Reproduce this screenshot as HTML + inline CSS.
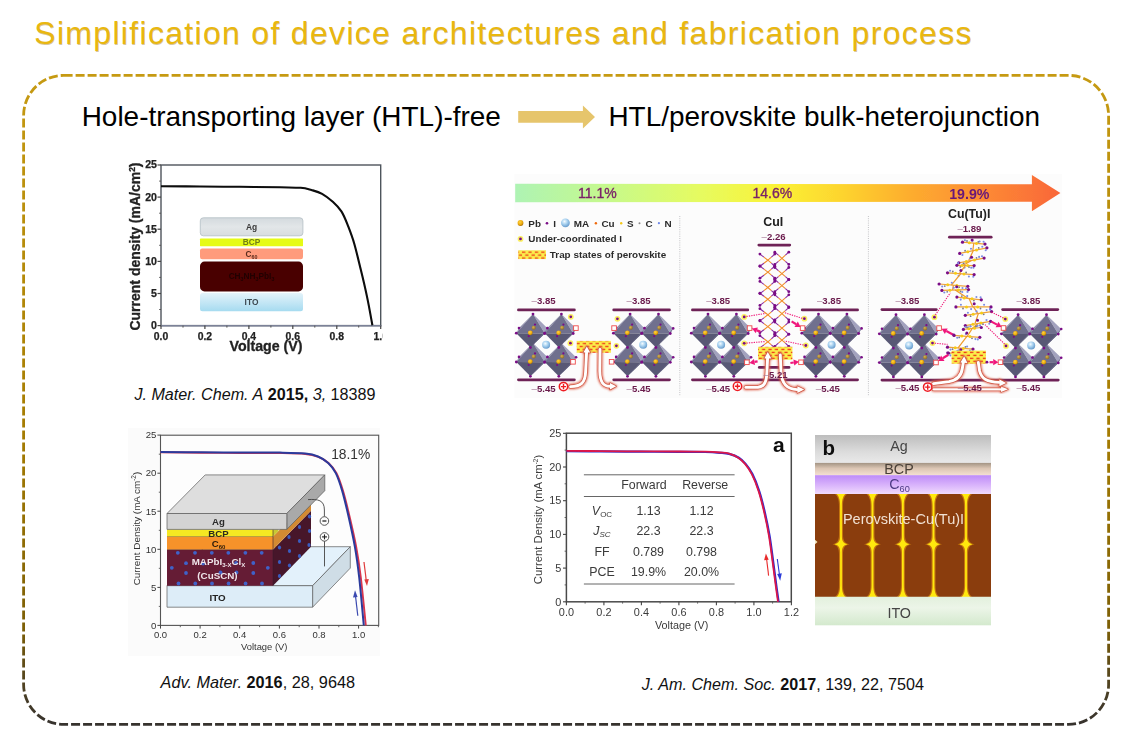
<!DOCTYPE html>
<html><head><meta charset="utf-8">
<style>
html,body{margin:0;padding:0;background:#fff;}
body{width:1133px;height:747px;position:relative;overflow:hidden;font-family:"Liberation Sans",sans-serif;}
.abs{position:absolute;white-space:nowrap;}
#title{left:34.3px;top:12.8px;font-size:32px;line-height:40px;letter-spacing:1.31px;color:#e9b710;text-shadow:0.3px 0.5px 0.6px rgba(150,105,0,.4);}
.h2{font-size:27.95px;line-height:32px;color:#000;}
.cit{font-size:16.15px;line-height:18px;color:#111;}
svg{position:absolute;left:0;top:0;overflow:visible;}
svg text{font-family:"Liberation Sans",sans-serif;}
</style></head>
<body>
<div id="title" class="abs">Simplification of device architectures and fabrication process</div>
<svg id="frame" width="1133" height="747" viewBox="0 0 1133 747">
<defs>
<linearGradient id="gb" x1="0" y1="75" x2="0" y2="725" gradientUnits="userSpaceOnUse">
<stop offset="0" stop-color="#c69a12"/><stop offset="0.55" stop-color="#a57c02"/><stop offset="0.85" stop-color="#7d5f06"/><stop offset="0.95" stop-color="#4a3f25"/><stop offset="1" stop-color="#36322e"/>
</linearGradient>
</defs>
<rect x="23.6" y="75.4" width="1085" height="649" rx="40" ry="40" fill="none" stroke="url(#gb)" stroke-width="2.8" stroke-dasharray="9 3"/>
</svg>
<svg id="arr" width="1133" height="747" viewBox="0 0 1133 747"><polygon points="518.2,111.1 582.9,111.1 582.9,105.6 595,117 582.9,128.5 582.9,122.8 518.2,122.8" fill="#e6c56c"/></svg>
<div class="abs h2" id="h2a" style="left:81.7px;top:100.9px;">Hole-transporting layer (HTL)-free</div>
<div class="abs h2" id="h2b" style="left:608.4px;top:101.1px;">HTL/perovskite bulk-heterojunction</div>
<svg id="fig1" width="1133" height="747" viewBox="0 0 1133 747">
<defs><linearGradient id="f1ito" x1="0" y1="0" x2="0" y2="1"><stop offset="0" stop-color="#e4f3fa"/><stop offset="1" stop-color="#a6dbf0"/></linearGradient>
<linearGradient id="f1ag" x1="0" y1="0" x2="0" y2="1"><stop offset="0" stop-color="#d4dade"/><stop offset="0.5" stop-color="#e2e6e8"/><stop offset="1" stop-color="#d8dde0"/></linearGradient>
<clipPath id="f1clip"><rect x="126" y="158" width="256.5" height="202"/></clipPath>
<filter id="blur4" x="-5%" y="-5%" width="110%" height="110%"><feGaussianBlur stdDeviation="0.45"/></filter></defs>
<g clip-path="url(#f1clip)"><g filter="url(#blur4)">
<rect x="161" y="165" width="219.7" height="160.6" fill="#fff" stroke="#4e545c" stroke-width="1.4"/>
<line x1="160.3" y1="325.8" x2="381.4" y2="325.8" stroke="#7c8298" stroke-width="1.6"/>
<line x1="157.5" y1="325.6" x2="161" y2="325.6" stroke="#444" stroke-width="1.2"/>
<text x="157" y="329.0" font-size="10.6" font-weight="bold" text-anchor="end" fill="#222" stroke="#222" stroke-width="0.25">0</text>
<line x1="157.5" y1="293.5" x2="161" y2="293.5" stroke="#444" stroke-width="1.2"/>
<text x="157" y="296.9" font-size="10.6" font-weight="bold" text-anchor="end" fill="#222" stroke="#222" stroke-width="0.25">5</text>
<line x1="157.5" y1="261.4" x2="161" y2="261.4" stroke="#444" stroke-width="1.2"/>
<text x="157" y="264.8" font-size="10.6" font-weight="bold" text-anchor="end" fill="#222" stroke="#222" stroke-width="0.25">10</text>
<line x1="157.5" y1="229.2" x2="161" y2="229.2" stroke="#444" stroke-width="1.2"/>
<text x="157" y="232.6" font-size="10.6" font-weight="bold" text-anchor="end" fill="#222" stroke="#222" stroke-width="0.25">15</text>
<line x1="157.5" y1="197.1" x2="161" y2="197.1" stroke="#444" stroke-width="1.2"/>
<text x="157" y="200.5" font-size="10.6" font-weight="bold" text-anchor="end" fill="#222" stroke="#222" stroke-width="0.25">20</text>
<line x1="157.5" y1="165.0" x2="161" y2="165.0" stroke="#444" stroke-width="1.2"/>
<text x="157" y="168.4" font-size="10.6" font-weight="bold" text-anchor="end" fill="#222" stroke="#222" stroke-width="0.25">25</text>
<line x1="159.2" y1="309.5" x2="161" y2="309.5" stroke="#555" stroke-width="1"/>
<line x1="159.2" y1="277.4" x2="161" y2="277.4" stroke="#555" stroke-width="1"/>
<line x1="159.2" y1="245.3" x2="161" y2="245.3" stroke="#555" stroke-width="1"/>
<line x1="159.2" y1="213.2" x2="161" y2="213.2" stroke="#555" stroke-width="1"/>
<line x1="159.2" y1="181.1" x2="161" y2="181.1" stroke="#555" stroke-width="1"/>
<line x1="161.0" y1="325.6" x2="161.0" y2="329" stroke="#444" stroke-width="1.2"/>
<text x="161.0" y="339.6" font-size="10.4" font-weight="bold" text-anchor="middle" fill="#222" stroke="#222" stroke-width="0.25">0.0</text>
<line x1="204.9" y1="325.6" x2="204.9" y2="329" stroke="#444" stroke-width="1.2"/>
<text x="204.9" y="339.6" font-size="10.4" font-weight="bold" text-anchor="middle" fill="#222" stroke="#222" stroke-width="0.25">0.2</text>
<line x1="248.9" y1="325.6" x2="248.9" y2="329" stroke="#444" stroke-width="1.2"/>
<text x="248.9" y="339.6" font-size="10.4" font-weight="bold" text-anchor="middle" fill="#222" stroke="#222" stroke-width="0.25">0.4</text>
<line x1="292.8" y1="325.6" x2="292.8" y2="329" stroke="#444" stroke-width="1.2"/>
<text x="292.8" y="339.6" font-size="10.4" font-weight="bold" text-anchor="middle" fill="#222" stroke="#222" stroke-width="0.25">0.6</text>
<line x1="336.8" y1="325.6" x2="336.8" y2="329" stroke="#444" stroke-width="1.2"/>
<text x="336.8" y="339.6" font-size="10.4" font-weight="bold" text-anchor="middle" fill="#222" stroke="#222" stroke-width="0.25">0.8</text>
<line x1="380.7" y1="325.6" x2="380.7" y2="329" stroke="#444" stroke-width="1.2"/>
<text x="380.7" y="339.6" font-size="10.4" font-weight="bold" text-anchor="middle" fill="#222" stroke="#222" stroke-width="0.25">1.0</text>
<line x1="183.0" y1="325.6" x2="183.0" y2="327.6" stroke="#555" stroke-width="1"/>
<line x1="226.9" y1="325.6" x2="226.9" y2="327.6" stroke="#555" stroke-width="1"/>
<line x1="270.9" y1="325.6" x2="270.9" y2="327.6" stroke="#555" stroke-width="1"/>
<line x1="314.8" y1="325.6" x2="314.8" y2="327.6" stroke="#555" stroke-width="1"/>
<line x1="358.7" y1="325.6" x2="358.7" y2="327.6" stroke="#555" stroke-width="1"/>
<text x="266" y="350.6" font-size="14.2" font-weight="bold" text-anchor="middle" fill="#222" stroke="#222" stroke-width="0.3">Voltage (V)</text>
<text transform="translate(139.6,246.5) rotate(-90)" font-size="14" font-weight="bold" text-anchor="middle" fill="#222" stroke="#222" stroke-width="0.3">Current density (mA/cm<tspan font-size="8.5" dy="-5">2</tspan><tspan dy="5">)</tspan></text>
<rect x="200.3" y="217.8" width="102.6" height="18" rx="3" fill="url(#f1ag)" stroke="#b9c3c8" stroke-width="0.9"/>
<rect x="200" y="238.6" width="103" height="7.6" rx="0.6" fill="#e6fb16"/>
<rect x="200" y="248.4" width="103" height="10.8" rx="2.2" fill="#ff9b7c"/>
<rect x="200" y="261.6" width="103" height="29.8" rx="4.5" fill="#480505"/>
<rect x="200" y="292.9" width="103" height="18.3" rx="2.5" fill="url(#f1ito)"/>
<text x="251.5" y="230" font-size="8.4" font-weight="bold" text-anchor="middle" fill="#3a3a3a">Ag</text>
<text x="251.5" y="245.2" font-size="8.3" font-weight="bold" text-anchor="middle" fill="#6f7f12">BCP</text>
<text x="251.5" y="256.8" font-size="8.3" font-weight="bold" text-anchor="middle" fill="#5a2a1c">C<tspan font-size="5.3" dy="1.8">60</tspan></text>
<text x="251.5" y="279.2" font-size="8.3" font-weight="bold" text-anchor="middle" fill="#220000">CH<tspan font-size="5.3" dy="1.8">3</tspan><tspan dy="-1.8">NH</tspan><tspan font-size="5.3" dy="1.8">3</tspan><tspan dy="-1.8">PbI</tspan><tspan font-size="5.3" dy="1.8">3</tspan></text>
<text x="251.5" y="305.2" font-size="8.4" font-weight="bold" text-anchor="middle" fill="#3c4850">ITO</text>
<path d="M161.0,186.2 C167.5,186.2 186.8,186.4 200.0,186.5 C213.2,186.6 226.7,186.7 240.0,186.8 C253.3,186.9 269.9,187.1 280.0,187.3 C290.1,187.5 295.5,187.4 300.7,187.8 C305.9,188.2 307.8,189.0 311.4,190.0 C315.0,191.0 318.5,191.8 322.1,193.8 C325.7,195.8 329.6,198.9 332.8,201.8 C336.0,204.7 338.9,207.5 341.4,211.4 C343.9,215.3 345.7,220.0 347.8,225.3 C349.9,230.7 352.1,236.2 354.2,243.5 C356.3,250.8 358.5,260.3 360.7,269.2 C362.9,278.1 365.2,287.8 367.1,297.1 C369.1,306.4 371.5,320.5 372.4,325.2" fill="none" stroke="#0a0a0a" stroke-width="2.1" stroke-linejoin="round"/>
</g></g></svg>
<div class="abs cit" id="c1" style="left:134.4px;top:385.2px;"><i>J. Mater. Chem. A</i> <b>2015,</b> <i>3,</i> 18389</div>
<svg id="fig2" width="1133" height="747" viewBox="0 0 1133 747">
<defs><clipPath id="f2clip"><rect x="128" y="428" width="252" height="228"/></clipPath></defs>
<rect x="128" y="428" width="252" height="228" fill="#fbfbfb"/>
<g filter="url(#blur4)">
<rect x="160.5" y="435.2" width="218.2" height="190.2" fill="#fdfdfd" stroke="#555" stroke-width="1.1"/>
<line x1="157.4" y1="625.4" x2="160.5" y2="625.4" stroke="#444" stroke-width="1"/>
<text x="156.4" y="628.6" font-size="9.6" text-anchor="end" fill="#333">0</text>
<line x1="157.4" y1="587.4" x2="160.5" y2="587.4" stroke="#444" stroke-width="1"/>
<text x="156.4" y="590.6" font-size="9.6" text-anchor="end" fill="#333">5</text>
<line x1="157.4" y1="549.3" x2="160.5" y2="549.3" stroke="#444" stroke-width="1"/>
<text x="156.4" y="552.5" font-size="9.6" text-anchor="end" fill="#333">10</text>
<line x1="157.4" y1="511.2" x2="160.5" y2="511.2" stroke="#444" stroke-width="1"/>
<text x="156.4" y="514.5" font-size="9.6" text-anchor="end" fill="#333">15</text>
<line x1="157.4" y1="473.2" x2="160.5" y2="473.2" stroke="#444" stroke-width="1"/>
<text x="156.4" y="476.4" font-size="9.6" text-anchor="end" fill="#333">20</text>
<line x1="157.4" y1="435.1" x2="160.5" y2="435.1" stroke="#444" stroke-width="1"/>
<text x="156.4" y="438.3" font-size="9.6" text-anchor="end" fill="#333">25</text>
<line x1="158.8" y1="606.4" x2="160.5" y2="606.4" stroke="#555" stroke-width="0.9"/>
<line x1="158.8" y1="568.3" x2="160.5" y2="568.3" stroke="#555" stroke-width="0.9"/>
<line x1="158.8" y1="530.3" x2="160.5" y2="530.3" stroke="#555" stroke-width="0.9"/>
<line x1="158.8" y1="492.2" x2="160.5" y2="492.2" stroke="#555" stroke-width="0.9"/>
<line x1="158.8" y1="454.2" x2="160.5" y2="454.2" stroke="#555" stroke-width="0.9"/>
<line x1="160.5" y1="625.4" x2="160.5" y2="628.6" stroke="#444" stroke-width="1"/>
<text x="160.5" y="638.3" font-size="9.5" text-anchor="middle" fill="#333">0.0</text>
<line x1="200.1" y1="625.4" x2="200.1" y2="628.6" stroke="#444" stroke-width="1"/>
<text x="200.1" y="638.3" font-size="9.5" text-anchor="middle" fill="#333">0.2</text>
<line x1="239.7" y1="625.4" x2="239.7" y2="628.6" stroke="#444" stroke-width="1"/>
<text x="239.7" y="638.3" font-size="9.5" text-anchor="middle" fill="#333">0.4</text>
<line x1="279.4" y1="625.4" x2="279.4" y2="628.6" stroke="#444" stroke-width="1"/>
<text x="279.4" y="638.3" font-size="9.5" text-anchor="middle" fill="#333">0.6</text>
<line x1="319.0" y1="625.4" x2="319.0" y2="628.6" stroke="#444" stroke-width="1"/>
<text x="319.0" y="638.3" font-size="9.5" text-anchor="middle" fill="#333">0.8</text>
<line x1="358.6" y1="625.4" x2="358.6" y2="628.6" stroke="#444" stroke-width="1"/>
<text x="358.6" y="638.3" font-size="9.5" text-anchor="middle" fill="#333">1.0</text>
<line x1="180.3" y1="625.4" x2="180.3" y2="627.2" stroke="#555" stroke-width="0.9"/>
<line x1="219.9" y1="625.4" x2="219.9" y2="627.2" stroke="#555" stroke-width="0.9"/>
<line x1="259.6" y1="625.4" x2="259.6" y2="627.2" stroke="#555" stroke-width="0.9"/>
<line x1="299.2" y1="625.4" x2="299.2" y2="627.2" stroke="#555" stroke-width="0.9"/>
<line x1="338.8" y1="625.4" x2="338.8" y2="627.2" stroke="#555" stroke-width="0.9"/>
<line x1="378.4" y1="625.4" x2="378.4" y2="627.2" stroke="#555" stroke-width="0.9"/>
<text x="264.2" y="650.1" font-size="9.4" text-anchor="middle" fill="#333">Voltage (V)</text>
<text transform="translate(139.8,528.5) rotate(-90)" font-size="9.85" text-anchor="middle" fill="#333">Current Density (mA cm<tspan font-size="6.5" dy="-4">-2</tspan><tspan dy="4">)</tspan></text>
<path d="M160.5,452.3 C167.1,452.4 186.8,452.6 200.0,452.7 C213.2,452.8 226.7,452.9 240.0,453.0 C253.3,453.1 269.1,452.9 280.0,453.1 C290.9,453.3 298.9,453.4 305.3,454.0 C311.7,454.6 314.4,455.4 318.3,456.9 C322.2,458.4 325.7,460.5 328.7,463.2 C331.7,465.9 334.1,468.7 336.5,473.3 C338.9,477.9 340.8,483.7 343.0,490.9 C345.2,498.1 347.3,507.0 349.5,516.3 C351.7,525.6 354.3,536.7 356.2,546.9 C358.1,557.1 359.2,564.3 360.8,577.4 C362.4,590.5 365.0,617.4 365.8,625.4" fill="none" stroke="#d8344e" stroke-width="1.9"/>
<path d="M160.5,452.0 C167.1,452.1 186.8,452.2 200.0,452.3 C213.2,452.4 226.7,452.4 240.0,452.5 C253.3,452.6 269.1,452.4 280.0,452.6 C290.9,452.8 299.0,452.9 305.3,453.5 C311.6,454.1 314.2,454.9 318.0,456.5 C321.8,458.1 325.2,460.1 328.2,462.9 C331.2,465.7 333.5,468.4 335.8,473.1 C338.1,477.8 340.1,483.7 342.2,490.9 C344.3,498.1 346.4,507.0 348.5,516.3 C350.6,525.6 353.1,536.7 354.9,546.9 C356.7,557.1 357.7,564.3 359.2,577.4 C360.7,590.5 363.0,617.4 363.8,625.4" fill="none" stroke="#2c3a9c" stroke-width="2"/>
<polygon points="167,585.7 205,546.7 350.3,546.7 312.6,585.7" fill="#e3f1fb" stroke="#5a5a5a" stroke-width="0.7" stroke-linejoin="round"/>
<polygon points="312.6,585.7 350.3,546.7 350.3,568.1 312.6,607.2" fill="#cfdde6" stroke="#5a5a5a" stroke-width="0.7" stroke-linejoin="round"/>
<rect x="167" y="585.7" width="145.6" height="21.5" fill="#ddedf8" stroke="#5a5a5a" stroke-width="0.7" stroke-linejoin="round"/>
<polygon points="273,549.6 311,510.8 311,546.7 273,585.7" fill="#47182b"/>
<polygon points="273,536.5 311,497.8 311,510.8 273,549.6" fill="#d38a32"/>
<polygon points="273,529.4 278.5,529.4 278.5,531 273,536.5" fill="#c9c832"/>
<ellipse cx="309.5" cy="516.5" rx="1.6" ry="2" fill="#3a5cc0"/>
<ellipse cx="299.5" cy="527.0" rx="1.6" ry="2" fill="#3a5cc0"/>
<ellipse cx="289.0" cy="537.0" rx="1.6" ry="2" fill="#3a5cc0"/>
<ellipse cx="279.5" cy="547.5" rx="1.6" ry="2" fill="#3a5cc0"/>
<ellipse cx="309.0" cy="545.0" rx="1.6" ry="2" fill="#3a5cc0"/>
<ellipse cx="299.5" cy="541.0" rx="1.6" ry="2" fill="#3a5cc0"/>
<ellipse cx="289.5" cy="551.0" rx="1.6" ry="2" fill="#3a5cc0"/>
<ellipse cx="279.5" cy="562.0" rx="1.6" ry="2" fill="#3a5cc0"/>
<ellipse cx="299.5" cy="556.0" rx="1.6" ry="2" fill="#3a5cc0"/>
<ellipse cx="289.5" cy="565.5" rx="1.6" ry="2" fill="#3a5cc0"/>
<ellipse cx="279.5" cy="576.0" rx="1.6" ry="2" fill="#3a5cc0"/>
<ellipse cx="309.5" cy="531.0" rx="1.6" ry="2" fill="#3a5cc0"/>
<rect x="167" y="549.6" width="106" height="36.1" fill="#651a35"/>
<circle cx="177.8" cy="552.8" r="1.9" fill="#3f62c8"/>
<circle cx="195.0" cy="552.8" r="1.9" fill="#3f62c8"/>
<circle cx="211.8" cy="552.8" r="1.9" fill="#3f62c8"/>
<circle cx="228.3" cy="552.8" r="1.9" fill="#3f62c8"/>
<circle cx="245.4" cy="552.8" r="1.9" fill="#3f62c8"/>
<circle cx="261.7" cy="552.8" r="1.9" fill="#3f62c8"/>
<circle cx="186.0" cy="563.2" r="1.9" fill="#3f62c8"/>
<circle cx="203.0" cy="563.5" r="1.9" fill="#3f62c8"/>
<circle cx="236.0" cy="563.0" r="1.9" fill="#3f62c8"/>
<circle cx="253.3" cy="563.0" r="1.9" fill="#3f62c8"/>
<circle cx="171.8" cy="567.8" r="1.9" fill="#3f62c8"/>
<circle cx="267.8" cy="567.8" r="1.9" fill="#3f62c8"/>
<circle cx="186.0" cy="573.0" r="1.9" fill="#3f62c8"/>
<circle cx="220.5" cy="572.5" r="1.9" fill="#3f62c8"/>
<circle cx="236.5" cy="572.5" r="1.9" fill="#3f62c8"/>
<circle cx="253.3" cy="573.0" r="1.9" fill="#3f62c8"/>
<circle cx="178.5" cy="583.5" r="1.9" fill="#3f62c8"/>
<circle cx="195.3" cy="583.5" r="1.9" fill="#3f62c8"/>
<circle cx="212.0" cy="583.5" r="1.9" fill="#3f62c8"/>
<circle cx="228.6" cy="583.5" r="1.9" fill="#3f62c8"/>
<circle cx="245.6" cy="583.5" r="1.9" fill="#3f62c8"/>
<circle cx="262.0" cy="583.5" r="1.9" fill="#3f62c8"/>
<rect x="167" y="536.5" width="106" height="13.1" fill="#f6922a"/>
<rect x="167" y="529.4" width="106" height="7.1" fill="#f5e824"/>
<line x1="167" y1="536.5" x2="273" y2="536.5" stroke="#7a6a20" stroke-width="0.5"/>
<line x1="167" y1="549.6" x2="273" y2="549.6" stroke="#6a3a20" stroke-width="0.5"/>
<line x1="273" y1="529.4" x2="273" y2="585.7" stroke="#3a2030" stroke-width="0.6"/>
<polygon points="167,513.5 205.2,474.9 324.8,474.9 286.8,513.5" fill="#dedede" stroke="#5a5a5a" stroke-width="0.7" stroke-linejoin="round"/>
<polygon points="286.8,513.5 324.8,474.9 324.8,490.7 286.8,529.4" fill="#a9a9a9" stroke="#5a5a5a" stroke-width="0.7" stroke-linejoin="round"/>
<rect x="167" y="513.5" width="119.8" height="15.9" fill="#d3d3d3" stroke="#5a5a5a" stroke-width="0.7" stroke-linejoin="round"/>
<text x="218.5" y="525.2" font-size="9.6" font-weight="bold" text-anchor="middle" fill="#2a2a2a">Ag</text>
<text x="218.5" y="537" font-size="9.6" font-weight="bold" text-anchor="middle" fill="#2a2a1a">BCP</text>
<text x="218.5" y="547" font-size="9.6" font-weight="bold" text-anchor="middle" fill="#2a1a0a">C<tspan font-size="6" dy="2">60</tspan></text>
<text x="218.5" y="564.6" font-size="9.8" font-weight="bold" text-anchor="middle" fill="#efe6ea">MAPbI<tspan font-size="6" dy="2">3-X</tspan><tspan dy="-2">Cl</tspan><tspan font-size="6" dy="2">X</tspan></text>
<text x="217.5" y="578.8" font-size="9.8" font-weight="bold" text-anchor="middle" fill="#efe6ea">(CuSCN)</text>
<text x="217.5" y="601.4" font-size="9.8" font-weight="bold" text-anchor="middle" fill="#222">ITO</text>
<path d="M308,499.6 C318,499 324.4,500 324.4,510 L324.4,516.5" fill="none" stroke="#444" stroke-width="0.9"/>
<circle cx="324.4" cy="521" r="4.3" fill="#fbfbfb" stroke="#444" stroke-width="0.9"/><line x1="322.4" y1="521" x2="326.4" y2="521" stroke="#222" stroke-width="1.3"/>
<circle cx="324.5" cy="536.9" r="4.3" fill="#fbfbfb" stroke="#444" stroke-width="0.9"/><line x1="322" y1="536.9" x2="327" y2="536.9" stroke="#222" stroke-width="1.1"/><line x1="324.5" y1="534.4" x2="324.5" y2="539.4" stroke="#222" stroke-width="1.1"/>
<line x1="324.5" y1="541.2" x2="324.5" y2="566.4" stroke="#444" stroke-width="0.9"/>
<text x="331.2" y="458.6" font-size="13.8" fill="#333">18.1%</text>
<line x1="364" y1="562" x2="366.3" y2="581" stroke="#e03a3a" stroke-width="1.2"/><polygon points="364.3,579.5 368.8,578.9 367,586" fill="#e03a3a"/>
<line x1="357.8" y1="615.8" x2="355.5" y2="596" stroke="#3a4ab0" stroke-width="1.2"/><polygon points="353,597.6 357.6,597 355,590.2" fill="#3a4ab0"/>
</g></svg>
<div class="abs cit" id="c2" style="left:160.6px;top:672.6px;font-size:16.28px;"><i>Adv. Mater.</i> <b>2016</b>, 28, 9648</div>
<svg id="fig3" width="1133" height="747" viewBox="0 0 1133 747">
<defs>
<linearGradient id="f3bar" x1="515" y1="0" x2="1061" y2="0" gradientUnits="userSpaceOnUse">
<stop offset="0" stop-color="#aef3b4"/><stop offset="0.17" stop-color="#c6f98c"/><stop offset="0.34" stop-color="#e6fb60"/><stop offset="0.48" stop-color="#fbf236"/><stop offset="0.6" stop-color="#fdd42e"/><stop offset="0.72" stop-color="#fdae2e"/><stop offset="0.86" stop-color="#fd8a34"/><stop offset="1" stop-color="#f9663a"/>
</linearGradient>
<radialGradient id="gma" cx="0.4" cy="0.35" r="0.7"><stop offset="0" stop-color="#f4fbff"/><stop offset="0.45" stop-color="#a9d2f0"/><stop offset="1" stop-color="#5f95c8"/></radialGradient>
<radialGradient id="gpb" cx="0.4" cy="0.35" r="0.7"><stop offset="0" stop-color="#ffd640"/><stop offset="0.6" stop-color="#eda90c"/><stop offset="1" stop-color="#a06a04"/></radialGradient>
<radialGradient id="gpb2" cx="0.4" cy="0.35" r="0.7"><stop offset="0" stop-color="#d8b050"/><stop offset="1" stop-color="#8a6a20"/></radialGradient>
<pattern id="trap" x="0" y="0" width="6.4" height="5.9" patternUnits="userSpaceOnUse"><rect width="6.4" height="5.9" fill="#fbf04a"/><rect x="0.4" y="0.7" width="3.3" height="1.4" fill="#f0401c"/><rect x="3.6" y="3.65" width="3.3" height="1.4" fill="#f0401c"/><rect x="-2.8" y="3.65" width="3.3" height="1.4" fill="#f0401c"/></pattern>
<filter id="blur6" x="-5%" y="-5%" width="110%" height="110%"><feGaussianBlur stdDeviation="0.6"/></filter>
<filter id="glow" x="-20%" y="-20%" width="140%" height="140%"><feGaussianBlur stdDeviation="0.9"/></filter>
<g id="oct">
<polygon points="1.3,-16.7 -12.7,-2.7 -15.4,2.4" fill="#8c8ca8"/>
<polygon points="1.3,-16.7 16,-2.4 13.1,2.7" fill="#a2a2be"/>
<polygon points="1.3,-16.7 -15.4,2.4 13.1,2.7" fill="#6f6f8e"/>
<polygon points="-1.3,16.7 -15.4,2.4 13.1,2.7" fill="#595975"/>
<polygon points="-1.3,16.7 13.1,2.7 16,-2.4" fill="#6a6a88"/>
<circle cx="2" cy="-3" r="2" fill="url(#gpb2)"/>
<circle cx="-1.4" cy="2" r="2.4" fill="url(#gpb)"/>
<g fill="#7a0f86"><circle cx="1.3" cy="-16.7" r="1.4"/><circle cx="-1.3" cy="16.7" r="1.4"/><circle cx="-15.4" cy="2.4" r="1.4"/><circle cx="-12.7" cy="-2.7" r="1.3"/><circle cx="16" cy="-2.4" r="1.3"/><circle cx="13.1" cy="2.7" r="1.4"/><circle cx="-3" cy="5.4" r="1.1"/><circle cx="3.3" cy="-6.2" r="1.1"/></g>
</g>
<g id="blk">
<use href="#oct" x="-14.2" y="14.4"/><use href="#oct" x="14.2" y="14.4"/><use href="#oct" x="-14.2" y="-14.4"/><use href="#oct" x="14.2" y="-14.4"/>
<circle cx="0.2" cy="-0.4" r="4" fill="url(#gma)"/>
</g>
<g id="halo"><circle r="2.9" fill="#fbf060"/><circle r="1.4" fill="#7a0f86"/></g>
<g id="rsq"><rect x="-2.3" y="-2.3" width="4.6" height="4.6" fill="#fff" stroke="#ee4848" stroke-width="0.9"/></g>
<g id="hole"><circle r="4.2" fill="#fff" stroke="#ee1c24" stroke-width="1.5"/><path d="M-2.6,0H2.6M0,-2.6V2.6" stroke="#ee1c24" stroke-width="1.4"/></g>
</defs>
<rect x="514.5" y="174" width="547.5" height="224" fill="#fcfcfc"/>
<g filter="url(#blur6)">
<polygon points="515.2,183.8 1031.9,184.2 1031.9,175.1 1060.4,193 1031.9,211.2 1031.9,201.8 515.2,202.3" fill="url(#f3bar)"/>
<text x="578" y="198" font-size="14" fill="#7a2468" stroke="#7a2468" stroke-width="0.35">11.1%</text>
<text x="752.5" y="198.2" font-size="14" fill="#7a2468" stroke="#7a2468" stroke-width="0.35">14.6%</text>
<text x="949.2" y="198.6" font-size="14.2" font-weight="bold" fill="#68187a">19.9%</text>
<line x1="679.8" y1="216" x2="679.8" y2="396" stroke="#c4c4c8" stroke-width="1" stroke-dasharray="1 1.2"/>
<line x1="868.4" y1="216" x2="868.4" y2="396" stroke="#c4c4c8" stroke-width="1" stroke-dasharray="1 1.2"/>
<circle cx="520.5" cy="223" r="2.9" fill="url(#gpb)"/><text x="528.3" y="226.5" font-size="9.9" font-weight="bold" fill="#2c2c2c">Pb</text>
<circle cx="547" cy="223.2" r="1.3" fill="#7a0f86"/><text x="553.2" y="226.5" font-size="9.9" font-weight="bold" fill="#2c2c2c">I</text>
<circle cx="565.4" cy="222.8" r="4.4" fill="url(#gma)"/><text x="573.8" y="226.5" font-size="9.9" font-weight="bold" fill="#2c2c2c">MA</text>
<circle cx="595.9" cy="223.2" r="1.2" fill="#f06a10"/><text x="601.4" y="226.5" font-size="9.9" font-weight="bold" fill="#2c2c2c">Cu</text>
<circle cx="621.2" cy="223.2" r="1.2" fill="#f4c818"/><text x="627" y="226.5" font-size="9.9" font-weight="bold" fill="#2c2c2c">S</text>
<circle cx="639.5" cy="223.2" r="1" fill="#8a8a8a"/><text x="645.4" y="226.5" font-size="9.9" font-weight="bold" fill="#2c2c2c">C</text>
<circle cx="658.9" cy="223.2" r="1.1" fill="#7088e8"/><text x="664.4" y="226.5" font-size="9.9" font-weight="bold" fill="#2c2c2c">N</text>
<use href="#halo" x="520.5" y="238.9"/><text x="528.3" y="242.1" font-size="9.9" font-weight="bold" fill="#2c2c2c">Under-coordinated I</text>
<rect x="518.2" y="250.3" width="27.8" height="8.8" fill="url(#trap)"/><text x="549.8" y="257.9" font-size="9.9" font-weight="bold" fill="#2c2c2c">Trap states of perovskite</text>
<line x1="518.4" y1="309.9" x2="574.4" y2="309.9" stroke="#6e2457" stroke-width="2.7" stroke-linecap="round"/>
<line x1="518.4" y1="379.8" x2="574.4" y2="379.8" stroke="#6e2457" stroke-width="2.7" stroke-linecap="round"/>
<line x1="613.7" y1="309.9" x2="669.5" y2="309.9" stroke="#6e2457" stroke-width="2.7" stroke-linecap="round"/>
<line x1="613.7" y1="379.8" x2="669.5" y2="379.8" stroke="#6e2457" stroke-width="2.7" stroke-linecap="round"/>
<text x="543.6" y="304.3" font-size="9.6" font-weight="bold" text-anchor="middle" fill="#6a1a4c"><tspan font-weight="normal" fill="#a87a98">–</tspan>3.85</text>
<text x="638.6" y="304.3" font-size="9.6" font-weight="bold" text-anchor="middle" fill="#6a1a4c"><tspan font-weight="normal" fill="#a87a98">–</tspan>3.85</text>
<text x="543.6" y="391.9" font-size="9.6" font-weight="bold" text-anchor="middle" fill="#6a1a4c"><tspan font-weight="normal" fill="#a87a98">–</tspan>5.45</text>
<text x="638.6" y="391.9" font-size="9.6" font-weight="bold" text-anchor="middle" fill="#6a1a4c"><tspan font-weight="normal" fill="#a87a98">–</tspan>5.45</text>
<use href="#blk" x="545.9" y="345.2"/>
<use href="#blk" x="643.0" y="345.2"/>
<rect x="576.7" y="340.9" width="34.2" height="11.9" fill="url(#trap)"/>
<use href="#halo" x="570.8" y="316.8"/>
<use href="#halo" x="570.4" y="343.2"/>
<use href="#halo" x="617.4" y="318.8"/>
<use href="#halo" x="616.4" y="345.8"/>
<use href="#rsq" x="575.9" y="328.1"/>
<use href="#rsq" x="573.0" y="361.8"/>
<use href="#rsq" x="614.1" y="328.1"/>
<use href="#rsq" x="611.6" y="361.8"/>
<g><g filter="url(#glow)"><path d="M570.5,386.6 C580.5,386.4 585.3,383 585.6,372 L586.6,352" fill="none" stroke="#e0604c" stroke-width="5.5" stroke-linecap="round"/><polygon points="583.4,352.6 586.8,346.4 590.2,352.6" fill="#e0604c" stroke="#e0604c" stroke-width="2.2" stroke-linejoin="round"/></g>
<path d="M570.5,386.6 C580.5,386.4 585.3,383 585.6,372 L586.6,352" fill="none" stroke="#c8503c" stroke-width="3.9" stroke-linecap="round"/><polygon points="583.4,352.6 586.8,346.4 590.2,352.6" fill="#fff" stroke="#c8503c" stroke-width="1.2" stroke-linejoin="round"/>
<path d="M570.5,386.6 C580.5,386.4 585.3,383 585.6,372 L586.6,352" fill="none" stroke="#fff" stroke-width="2.9" stroke-linecap="round"/><polygon points="583.4,352.6 586.8,346.4 590.2,352.6" fill="#fff"/></g>
<g><g filter="url(#glow)"><path d="M600,349.5 L599.8,371 C600,382 603,386.2 610,386.3" fill="none" stroke="#e0604c" stroke-width="5.5" stroke-linecap="round"/><polygon points="610,383 616.2,386.3 610,389.6" fill="#e0604c" stroke="#e0604c" stroke-width="2.2" stroke-linejoin="round"/></g>
<path d="M600,349.5 L599.8,371 C600,382 603,386.2 610,386.3" fill="none" stroke="#c8503c" stroke-width="3.9" stroke-linecap="round"/><polygon points="610,383 616.2,386.3 610,389.6" fill="#fff" stroke="#c8503c" stroke-width="1.2" stroke-linejoin="round"/>
<path d="M600,349.5 L599.8,371 C600,382 603,386.2 610,386.3" fill="none" stroke="#fff" stroke-width="2.9" stroke-linecap="round"/><polygon points="610,383 616.2,386.3 610,389.6" fill="#fff"/></g>
<use href="#hole" x="563.5" y="386.6"/>
<line x1="692.4" y1="309.9" x2="747.8" y2="309.9" stroke="#6e2457" stroke-width="2.7" stroke-linecap="round"/>
<line x1="802.2" y1="309.9" x2="857.6" y2="309.9" stroke="#6e2457" stroke-width="2.7" stroke-linecap="round"/>
<line x1="692.4" y1="379.8" x2="857.6" y2="379.8" stroke="#6e2457" stroke-width="2.7" stroke-linecap="round"/>
<line x1="758.8" y1="245.1" x2="789.8" y2="245.1" stroke="#6e2457" stroke-width="2.7" stroke-linecap="round"/>
<line x1="759.3" y1="367.4" x2="789.0" y2="367.4" stroke="#6e2457" stroke-width="2.8" stroke-linecap="round"/>
<text x="718.2" y="304.3" font-size="9.6" font-weight="bold" text-anchor="middle" fill="#6a1a4c"><tspan font-weight="normal" fill="#a87a98">–</tspan>3.85</text>
<text x="829.0" y="304.3" font-size="9.6" font-weight="bold" text-anchor="middle" fill="#6a1a4c"><tspan font-weight="normal" fill="#a87a98">–</tspan>3.85</text>
<text x="718.2" y="391.6" font-size="9.6" font-weight="bold" text-anchor="middle" fill="#6a1a4c"><tspan font-weight="normal" fill="#a87a98">–</tspan>5.45</text>
<text x="827.8" y="391.6" font-size="9.6" font-weight="bold" text-anchor="middle" fill="#6a1a4c"><tspan font-weight="normal" fill="#a87a98">–</tspan>5.45</text>
<text x="773.6" y="239.8" font-size="9.6" font-weight="bold" text-anchor="middle" fill="#6a1a4c"><tspan font-weight="normal" fill="#a87a98">–</tspan>2.26</text>
<text x="773.2" y="225.9" font-size="12.4" font-weight="bold" text-anchor="middle" fill="#222">CuI</text>
<use href="#blk" x="720.9" y="345.2"/>
<use href="#blk" x="831.4" y="345.2"/>
<line x1="767.9" y1="260.2" x2="763.9" y2="257.1" stroke="#f08c28" stroke-width="1.1"/><line x1="763.9" y1="257.1" x2="759.9" y2="254.1" stroke="#8a2aa0" stroke-width="1.1"/>
<line x1="767.9" y1="260.2" x2="771.4" y2="257.1" stroke="#f08c28" stroke-width="1.1"/><line x1="771.4" y1="257.1" x2="774.8" y2="254.1" stroke="#8a2aa0" stroke-width="1.1"/>
<line x1="767.9" y1="260.2" x2="763.9" y2="263.2" stroke="#f08c28" stroke-width="1.1"/><line x1="763.9" y1="263.2" x2="759.9" y2="266.3" stroke="#8a2aa0" stroke-width="1.1"/>
<line x1="767.9" y1="260.2" x2="771.4" y2="263.2" stroke="#f08c28" stroke-width="1.1"/><line x1="771.4" y1="263.2" x2="774.8" y2="266.3" stroke="#8a2aa0" stroke-width="1.1"/>
<line x1="767.9" y1="272.1" x2="763.9" y2="269.1" stroke="#f08c28" stroke-width="1.1"/><line x1="763.9" y1="269.1" x2="759.9" y2="266.0" stroke="#8a2aa0" stroke-width="1.1"/>
<line x1="767.9" y1="272.1" x2="771.4" y2="269.1" stroke="#f08c28" stroke-width="1.1"/><line x1="771.4" y1="269.1" x2="774.8" y2="266.0" stroke="#8a2aa0" stroke-width="1.1"/>
<line x1="767.9" y1="272.1" x2="763.9" y2="275.2" stroke="#f08c28" stroke-width="1.1"/><line x1="763.9" y1="275.2" x2="759.9" y2="278.2" stroke="#8a2aa0" stroke-width="1.1"/>
<line x1="767.9" y1="272.1" x2="771.4" y2="275.2" stroke="#f08c28" stroke-width="1.1"/><line x1="771.4" y1="275.2" x2="774.8" y2="278.2" stroke="#8a2aa0" stroke-width="1.1"/>
<line x1="767.9" y1="287.5" x2="763.9" y2="284.4" stroke="#f08c28" stroke-width="1.1"/><line x1="763.9" y1="284.4" x2="759.9" y2="281.4" stroke="#8a2aa0" stroke-width="1.1"/>
<line x1="767.9" y1="287.5" x2="771.4" y2="284.4" stroke="#f08c28" stroke-width="1.1"/><line x1="771.4" y1="284.4" x2="774.8" y2="281.4" stroke="#8a2aa0" stroke-width="1.1"/>
<line x1="767.9" y1="287.5" x2="763.9" y2="290.6" stroke="#f08c28" stroke-width="1.1"/><line x1="763.9" y1="290.6" x2="759.9" y2="293.6" stroke="#8a2aa0" stroke-width="1.1"/>
<line x1="767.9" y1="287.5" x2="771.4" y2="290.6" stroke="#f08c28" stroke-width="1.1"/><line x1="771.4" y1="290.6" x2="774.8" y2="293.6" stroke="#8a2aa0" stroke-width="1.1"/>
<line x1="767.9" y1="299.3" x2="763.9" y2="296.2" stroke="#f08c28" stroke-width="1.1"/><line x1="763.9" y1="296.2" x2="759.9" y2="293.2" stroke="#8a2aa0" stroke-width="1.1"/>
<line x1="767.9" y1="299.3" x2="771.4" y2="296.2" stroke="#f08c28" stroke-width="1.1"/><line x1="771.4" y1="296.2" x2="774.8" y2="293.2" stroke="#8a2aa0" stroke-width="1.1"/>
<line x1="767.9" y1="299.3" x2="763.9" y2="302.4" stroke="#f08c28" stroke-width="1.1"/><line x1="763.9" y1="302.4" x2="759.9" y2="305.4" stroke="#8a2aa0" stroke-width="1.1"/>
<line x1="767.9" y1="299.3" x2="771.4" y2="302.4" stroke="#f08c28" stroke-width="1.1"/><line x1="771.4" y1="302.4" x2="774.8" y2="305.4" stroke="#8a2aa0" stroke-width="1.1"/>
<line x1="767.9" y1="314.8" x2="763.9" y2="311.8" stroke="#f08c28" stroke-width="1.1"/><line x1="763.9" y1="311.8" x2="759.9" y2="308.7" stroke="#8a2aa0" stroke-width="1.1"/>
<line x1="767.9" y1="314.8" x2="771.4" y2="311.8" stroke="#f08c28" stroke-width="1.1"/><line x1="771.4" y1="311.8" x2="774.8" y2="308.7" stroke="#8a2aa0" stroke-width="1.1"/>
<line x1="767.9" y1="314.8" x2="763.9" y2="317.9" stroke="#f08c28" stroke-width="1.1"/><line x1="763.9" y1="317.9" x2="759.9" y2="320.9" stroke="#8a2aa0" stroke-width="1.1"/>
<line x1="767.9" y1="314.8" x2="771.4" y2="317.9" stroke="#f08c28" stroke-width="1.1"/><line x1="771.4" y1="317.9" x2="774.8" y2="320.9" stroke="#8a2aa0" stroke-width="1.1"/>
<line x1="767.9" y1="326.6" x2="763.9" y2="323.6" stroke="#f08c28" stroke-width="1.1"/><line x1="763.9" y1="323.6" x2="759.9" y2="320.5" stroke="#8a2aa0" stroke-width="1.1"/>
<line x1="767.9" y1="326.6" x2="771.4" y2="323.6" stroke="#f08c28" stroke-width="1.1"/><line x1="771.4" y1="323.6" x2="774.8" y2="320.5" stroke="#8a2aa0" stroke-width="1.1"/>
<line x1="767.9" y1="326.6" x2="763.9" y2="329.7" stroke="#f08c28" stroke-width="1.1"/><line x1="763.9" y1="329.7" x2="759.9" y2="332.7" stroke="#8a2aa0" stroke-width="1.1"/>
<line x1="767.9" y1="326.6" x2="771.4" y2="329.7" stroke="#f08c28" stroke-width="1.1"/><line x1="771.4" y1="329.7" x2="774.8" y2="332.7" stroke="#8a2aa0" stroke-width="1.1"/>
<line x1="767.9" y1="341.8" x2="763.9" y2="338.8" stroke="#f08c28" stroke-width="1.1"/><line x1="763.9" y1="338.8" x2="759.9" y2="335.7" stroke="#8a2aa0" stroke-width="1.1"/>
<line x1="767.9" y1="341.8" x2="771.4" y2="338.8" stroke="#f08c28" stroke-width="1.1"/><line x1="771.4" y1="338.8" x2="774.8" y2="335.7" stroke="#8a2aa0" stroke-width="1.1"/>
<line x1="767.9" y1="341.8" x2="763.9" y2="344.9" stroke="#f08c28" stroke-width="1.1"/><line x1="763.9" y1="344.9" x2="759.9" y2="347.9" stroke="#8a2aa0" stroke-width="1.1"/>
<line x1="767.9" y1="341.8" x2="771.4" y2="344.9" stroke="#f08c28" stroke-width="1.1"/><line x1="771.4" y1="344.9" x2="774.8" y2="347.9" stroke="#8a2aa0" stroke-width="1.1"/>
<line x1="781.9" y1="258.3" x2="778.4" y2="255.2" stroke="#f08c28" stroke-width="1.1"/><line x1="778.4" y1="255.2" x2="774.8" y2="252.2" stroke="#8a2aa0" stroke-width="1.1"/>
<line x1="781.9" y1="258.3" x2="785.4" y2="255.2" stroke="#f08c28" stroke-width="1.1"/><line x1="785.4" y1="255.2" x2="788.8" y2="252.2" stroke="#8a2aa0" stroke-width="1.1"/>
<line x1="781.9" y1="258.3" x2="778.4" y2="261.4" stroke="#f08c28" stroke-width="1.1"/><line x1="778.4" y1="261.4" x2="774.8" y2="264.4" stroke="#8a2aa0" stroke-width="1.1"/>
<line x1="781.9" y1="258.3" x2="785.4" y2="261.4" stroke="#f08c28" stroke-width="1.1"/><line x1="785.4" y1="261.4" x2="788.8" y2="264.4" stroke="#8a2aa0" stroke-width="1.1"/>
<line x1="781.9" y1="273.6" x2="778.4" y2="270.6" stroke="#f08c28" stroke-width="1.1"/><line x1="778.4" y1="270.6" x2="774.8" y2="267.5" stroke="#8a2aa0" stroke-width="1.1"/>
<line x1="781.9" y1="273.6" x2="785.4" y2="270.6" stroke="#f08c28" stroke-width="1.1"/><line x1="785.4" y1="270.6" x2="788.8" y2="267.5" stroke="#8a2aa0" stroke-width="1.1"/>
<line x1="781.9" y1="273.6" x2="778.4" y2="276.7" stroke="#f08c28" stroke-width="1.1"/><line x1="778.4" y1="276.7" x2="774.8" y2="279.7" stroke="#8a2aa0" stroke-width="1.1"/>
<line x1="781.9" y1="273.6" x2="785.4" y2="276.7" stroke="#f08c28" stroke-width="1.1"/><line x1="785.4" y1="276.7" x2="788.8" y2="279.7" stroke="#8a2aa0" stroke-width="1.1"/>
<line x1="781.9" y1="285.6" x2="778.4" y2="282.6" stroke="#f08c28" stroke-width="1.1"/><line x1="778.4" y1="282.6" x2="774.8" y2="279.5" stroke="#8a2aa0" stroke-width="1.1"/>
<line x1="781.9" y1="285.6" x2="785.4" y2="282.6" stroke="#f08c28" stroke-width="1.1"/><line x1="785.4" y1="282.6" x2="788.8" y2="279.5" stroke="#8a2aa0" stroke-width="1.1"/>
<line x1="781.9" y1="285.6" x2="778.4" y2="288.7" stroke="#f08c28" stroke-width="1.1"/><line x1="778.4" y1="288.7" x2="774.8" y2="291.7" stroke="#8a2aa0" stroke-width="1.1"/>
<line x1="781.9" y1="285.6" x2="785.4" y2="288.7" stroke="#f08c28" stroke-width="1.1"/><line x1="785.4" y1="288.7" x2="788.8" y2="291.7" stroke="#8a2aa0" stroke-width="1.1"/>
<line x1="781.9" y1="300.9" x2="778.4" y2="297.8" stroke="#f08c28" stroke-width="1.1"/><line x1="778.4" y1="297.8" x2="774.8" y2="294.8" stroke="#8a2aa0" stroke-width="1.1"/>
<line x1="781.9" y1="300.9" x2="785.4" y2="297.8" stroke="#f08c28" stroke-width="1.1"/><line x1="785.4" y1="297.8" x2="788.8" y2="294.8" stroke="#8a2aa0" stroke-width="1.1"/>
<line x1="781.9" y1="300.9" x2="778.4" y2="303.9" stroke="#f08c28" stroke-width="1.1"/><line x1="778.4" y1="303.9" x2="774.8" y2="307.0" stroke="#8a2aa0" stroke-width="1.1"/>
<line x1="781.9" y1="300.9" x2="785.4" y2="303.9" stroke="#f08c28" stroke-width="1.1"/><line x1="785.4" y1="303.9" x2="788.8" y2="307.0" stroke="#8a2aa0" stroke-width="1.1"/>
<line x1="781.9" y1="313.7" x2="778.4" y2="310.6" stroke="#f08c28" stroke-width="1.1"/><line x1="778.4" y1="310.6" x2="774.8" y2="307.6" stroke="#8a2aa0" stroke-width="1.1"/>
<line x1="781.9" y1="313.7" x2="785.4" y2="310.6" stroke="#f08c28" stroke-width="1.1"/><line x1="785.4" y1="310.6" x2="788.8" y2="307.6" stroke="#8a2aa0" stroke-width="1.1"/>
<line x1="781.9" y1="313.7" x2="778.4" y2="316.8" stroke="#f08c28" stroke-width="1.1"/><line x1="778.4" y1="316.8" x2="774.8" y2="319.8" stroke="#8a2aa0" stroke-width="1.1"/>
<line x1="781.9" y1="313.7" x2="785.4" y2="316.8" stroke="#f08c28" stroke-width="1.1"/><line x1="785.4" y1="316.8" x2="788.8" y2="319.8" stroke="#8a2aa0" stroke-width="1.1"/>
<line x1="781.9" y1="328.2" x2="778.4" y2="325.1" stroke="#f08c28" stroke-width="1.1"/><line x1="778.4" y1="325.1" x2="774.8" y2="322.1" stroke="#8a2aa0" stroke-width="1.1"/>
<line x1="781.9" y1="328.2" x2="785.4" y2="325.1" stroke="#f08c28" stroke-width="1.1"/><line x1="785.4" y1="325.1" x2="788.8" y2="322.1" stroke="#8a2aa0" stroke-width="1.1"/>
<line x1="781.9" y1="328.2" x2="778.4" y2="331.2" stroke="#f08c28" stroke-width="1.1"/><line x1="778.4" y1="331.2" x2="774.8" y2="334.3" stroke="#8a2aa0" stroke-width="1.1"/>
<line x1="781.9" y1="328.2" x2="785.4" y2="331.2" stroke="#f08c28" stroke-width="1.1"/><line x1="785.4" y1="331.2" x2="788.8" y2="334.3" stroke="#8a2aa0" stroke-width="1.1"/>
<line x1="781.9" y1="340.2" x2="778.4" y2="337.1" stroke="#f08c28" stroke-width="1.1"/><line x1="778.4" y1="337.1" x2="774.8" y2="334.1" stroke="#8a2aa0" stroke-width="1.1"/>
<line x1="781.9" y1="340.2" x2="785.4" y2="337.1" stroke="#f08c28" stroke-width="1.1"/><line x1="785.4" y1="337.1" x2="788.8" y2="334.1" stroke="#8a2aa0" stroke-width="1.1"/>
<line x1="781.9" y1="340.2" x2="778.4" y2="343.2" stroke="#f08c28" stroke-width="1.1"/><line x1="778.4" y1="343.2" x2="774.8" y2="346.3" stroke="#8a2aa0" stroke-width="1.1"/>
<line x1="781.9" y1="340.2" x2="785.4" y2="343.2" stroke="#f08c28" stroke-width="1.1"/><line x1="785.4" y1="343.2" x2="788.8" y2="346.3" stroke="#8a2aa0" stroke-width="1.1"/>
<circle cx="759.9" cy="254.1" r="1.4" fill="#7a0f86"/>
<circle cx="774.8" cy="254.1" r="1.4" fill="#7a0f86"/>
<circle cx="759.9" cy="266.3" r="1.4" fill="#7a0f86"/>
<circle cx="774.8" cy="266.3" r="1.4" fill="#7a0f86"/>
<circle cx="759.9" cy="266.0" r="1.4" fill="#7a0f86"/>
<circle cx="774.8" cy="266.0" r="1.4" fill="#7a0f86"/>
<circle cx="759.9" cy="278.2" r="1.4" fill="#7a0f86"/>
<circle cx="774.8" cy="278.2" r="1.4" fill="#7a0f86"/>
<circle cx="759.9" cy="281.4" r="1.4" fill="#7a0f86"/>
<circle cx="774.8" cy="281.4" r="1.4" fill="#7a0f86"/>
<circle cx="759.9" cy="293.6" r="1.4" fill="#7a0f86"/>
<circle cx="774.8" cy="293.6" r="1.4" fill="#7a0f86"/>
<circle cx="759.9" cy="293.2" r="1.4" fill="#7a0f86"/>
<circle cx="774.8" cy="293.2" r="1.4" fill="#7a0f86"/>
<circle cx="759.9" cy="305.4" r="1.4" fill="#7a0f86"/>
<circle cx="774.8" cy="305.4" r="1.4" fill="#7a0f86"/>
<circle cx="759.9" cy="308.7" r="1.4" fill="#7a0f86"/>
<circle cx="774.8" cy="308.7" r="1.4" fill="#7a0f86"/>
<circle cx="759.9" cy="320.9" r="1.4" fill="#7a0f86"/>
<circle cx="774.8" cy="320.9" r="1.4" fill="#7a0f86"/>
<circle cx="759.9" cy="320.5" r="1.4" fill="#7a0f86"/>
<circle cx="774.8" cy="320.5" r="1.4" fill="#7a0f86"/>
<circle cx="759.9" cy="332.7" r="1.4" fill="#7a0f86"/>
<circle cx="774.8" cy="332.7" r="1.4" fill="#7a0f86"/>
<circle cx="759.9" cy="335.7" r="1.4" fill="#7a0f86"/>
<circle cx="774.8" cy="335.7" r="1.4" fill="#7a0f86"/>
<circle cx="774.8" cy="252.2" r="1.4" fill="#7a0f86"/>
<circle cx="788.8" cy="252.2" r="1.4" fill="#7a0f86"/>
<circle cx="774.8" cy="264.4" r="1.4" fill="#7a0f86"/>
<circle cx="788.8" cy="264.4" r="1.4" fill="#7a0f86"/>
<circle cx="774.8" cy="267.5" r="1.4" fill="#7a0f86"/>
<circle cx="788.8" cy="267.5" r="1.4" fill="#7a0f86"/>
<circle cx="774.8" cy="279.7" r="1.4" fill="#7a0f86"/>
<circle cx="788.8" cy="279.7" r="1.4" fill="#7a0f86"/>
<circle cx="774.8" cy="279.5" r="1.4" fill="#7a0f86"/>
<circle cx="788.8" cy="279.5" r="1.4" fill="#7a0f86"/>
<circle cx="774.8" cy="291.7" r="1.4" fill="#7a0f86"/>
<circle cx="788.8" cy="291.7" r="1.4" fill="#7a0f86"/>
<circle cx="774.8" cy="294.8" r="1.4" fill="#7a0f86"/>
<circle cx="788.8" cy="294.8" r="1.4" fill="#7a0f86"/>
<circle cx="774.8" cy="307.0" r="1.4" fill="#7a0f86"/>
<circle cx="788.8" cy="307.0" r="1.4" fill="#7a0f86"/>
<circle cx="774.8" cy="307.6" r="1.4" fill="#7a0f86"/>
<circle cx="788.8" cy="307.6" r="1.4" fill="#7a0f86"/>
<circle cx="774.8" cy="319.8" r="1.4" fill="#7a0f86"/>
<circle cx="788.8" cy="319.8" r="1.4" fill="#7a0f86"/>
<circle cx="774.8" cy="322.1" r="1.4" fill="#7a0f86"/>
<circle cx="788.8" cy="322.1" r="1.4" fill="#7a0f86"/>
<circle cx="774.8" cy="334.3" r="1.4" fill="#7a0f86"/>
<circle cx="788.8" cy="334.3" r="1.4" fill="#7a0f86"/>
<circle cx="774.8" cy="334.1" r="1.4" fill="#7a0f86"/>
<circle cx="788.8" cy="334.1" r="1.4" fill="#7a0f86"/>
<circle cx="774.8" cy="346.3" r="1.4" fill="#7a0f86"/>
<circle cx="788.8" cy="346.3" r="1.4" fill="#7a0f86"/>
<rect x="758.1" y="346.8" width="34.3" height="12.9" fill="url(#trap)"/>
<use href="#halo" x="744.2" y="316.9"/>
<use href="#halo" x="744.2" y="343.3"/>
<use href="#halo" x="804.4" y="318.7"/>
<use href="#halo" x="805.8" y="345.5"/>
<use href="#rsq" x="749.6" y="328.1"/>
<use href="#rsq" x="746.9" y="362.3"/>
<use href="#rsq" x="802.6" y="328.1"/>
<use href="#rsq" x="801.0" y="362.3"/>
<line x1="746.5" y1="316.5" x2="765.6" y2="313.4" stroke="#f01878" stroke-width="1.1" stroke-dasharray="1.3 1.1"/>
<line x1="746.5" y1="343.1" x2="765.6" y2="341.5" stroke="#f01878" stroke-width="1.1" stroke-dasharray="1.3 1.1"/>
<line x1="802.2" y1="318.3" x2="784.4" y2="312.6" stroke="#f01878" stroke-width="1.1" stroke-dasharray="1.3 1.1"/>
<line x1="803.5" y1="345.0" x2="784.4" y2="341.0" stroke="#f01878" stroke-width="1.1" stroke-dasharray="1.3 1.1"/>
<line x1="760.3" y1="331.6" x2="756.9" y2="330.4" stroke="#f0187c" stroke-width="2.2"/><polygon points="752.0,328.6 757.9,327.5 755.8,333.3" fill="#f0187c"/>
<line x1="757.6" y1="361.3" x2="754.5" y2="361.9" stroke="#f0187c" stroke-width="2.2"/><polygon points="749.4,362.9 753.9,358.9 755.1,364.9" fill="#f0187c"/>
<line x1="791.6" y1="321.4" x2="796.2" y2="324.3" stroke="#f0187c" stroke-width="2.2"/><polygon points="800.6,327.0 794.5,326.9 797.8,321.6" fill="#f0187c"/>
<line x1="790.4" y1="363.0" x2="793.8" y2="362.5" stroke="#f0187c" stroke-width="2.2"/><polygon points="799.0,361.8 794.3,365.6 793.4,359.4" fill="#f0187c"/>
<g><g filter="url(#glow)"><path d="M745.8,387.4 L758,387.2 C765,386.6 766.6,381 766.9,372 L767.6,358" fill="none" stroke="#e0604c" stroke-width="5.5" stroke-linecap="round"/><polygon points="764.3,358.6 767.8,352 771.3,358.6" fill="#e0604c" stroke="#e0604c" stroke-width="2.2" stroke-linejoin="round"/></g>
<path d="M745.8,387.4 L758,387.2 C765,386.6 766.6,381 766.9,372 L767.6,358" fill="none" stroke="#c8503c" stroke-width="3.9" stroke-linecap="round"/><polygon points="764.3,358.6 767.8,352 771.3,358.6" fill="#fff" stroke="#c8503c" stroke-width="1.2" stroke-linejoin="round"/>
<path d="M745.8,387.4 L758,387.2 C765,386.6 766.6,381 766.9,372 L767.6,358" fill="none" stroke="#fff" stroke-width="2.9" stroke-linecap="round"/><polygon points="764.3,358.6 767.8,352 771.3,358.6" fill="#fff"/></g>
<g><g filter="url(#glow)"><path d="M780.3,355 L781,372 C781.6,383 786,389.2 797,389.6" fill="none" stroke="#e0604c" stroke-width="5.5" stroke-linecap="round"/><polygon points="797.4,386.2 804.2,389.6 797.4,393" fill="#e0604c" stroke="#e0604c" stroke-width="2.2" stroke-linejoin="round"/></g>
<path d="M780.3,355 L781,372 C781.6,383 786,389.2 797,389.6" fill="none" stroke="#c8503c" stroke-width="3.9" stroke-linecap="round"/><polygon points="797.4,386.2 804.2,389.6 797.4,393" fill="#fff" stroke="#c8503c" stroke-width="1.2" stroke-linejoin="round"/>
<path d="M780.3,355 L781,372 C781.6,383 786,389.2 797,389.6" fill="none" stroke="#fff" stroke-width="2.9" stroke-linecap="round"/><polygon points="797.4,386.2 804.2,389.6 797.4,393" fill="#fff"/></g>
<use href="#hole" x="737.5" y="386.2"/>
<text x="775.6" y="377.8" font-size="9.6" font-weight="bold" text-anchor="middle" fill="#6a1a4c"><tspan font-weight="normal" fill="#a87a98">–</tspan>5.21</text>
<line x1="881.9" y1="309.6" x2="936.3" y2="309.6" stroke="#6e2457" stroke-width="2.7" stroke-linecap="round"/>
<line x1="1002.6" y1="309.6" x2="1057.8" y2="309.6" stroke="#6e2457" stroke-width="2.7" stroke-linecap="round"/>
<line x1="881.9" y1="380.1" x2="1058.3" y2="380.1" stroke="#6e2457" stroke-width="2.7" stroke-linecap="round"/>
<line x1="949.4" y1="237.2" x2="991.2" y2="237.2" stroke="#6e2457" stroke-width="2.7" stroke-linecap="round"/>
<text x="907.4" y="304.0" font-size="9.6" font-weight="bold" text-anchor="middle" fill="#6a1a4c"><tspan font-weight="normal" fill="#a87a98">–</tspan>3.85</text>
<text x="1028.4" y="304.0" font-size="9.6" font-weight="bold" text-anchor="middle" fill="#6a1a4c"><tspan font-weight="normal" fill="#a87a98">–</tspan>3.85</text>
<text x="907.4" y="391.2" font-size="9.6" font-weight="bold" text-anchor="middle" fill="#6a1a4c"><tspan font-weight="normal" fill="#a87a98">–</tspan>5.45</text>
<text x="1028.4" y="391.2" font-size="9.6" font-weight="bold" text-anchor="middle" fill="#6a1a4c"><tspan font-weight="normal" fill="#a87a98">–</tspan>5.45</text>
<text x="969.4" y="231.6" font-size="9.6" font-weight="bold" text-anchor="middle" fill="#6a1a4c"><tspan font-weight="normal" fill="#a87a98">–</tspan>1.89</text>
<text x="969.2" y="217.5" font-size="12.4" font-weight="bold" text-anchor="middle" fill="#222">Cu(Tu)I</text>
<use href="#blk" x="908.9" y="345.8"/>
<use href="#blk" x="1031.0" y="345.8"/>
<line x1="962.5" y1="242.2" x2="985.0" y2="244.1" stroke="#eea238" stroke-width="1.2"/>
<circle cx="969.3" cy="242.8" r="1.5" fill="#f6cc18"/>
<circle cx="976.5" cy="243.4" r="1.5" fill="#f6cc18"/>
<circle cx="964.9" cy="240.2" r="1.05" fill="#7c8ce4"/>
<circle cx="972.4" cy="240.8" r="1.05" fill="#7c8ce4"/>
<circle cx="979.6" cy="241.5" r="1.05" fill="#7c8ce4"/>
<circle cx="983.6" cy="241.8" r="1.05" fill="#7c8ce4"/>
<circle cx="967.0" cy="241.0" r="0.9" fill="#7c7c84"/>
<circle cx="978.3" cy="241.9" r="0.9" fill="#7c7c84"/>
<circle cx="962.5" cy="242.2" r="1.6" fill="#7a0f86"/><circle cx="985.0" cy="244.1" r="1.6" fill="#7a0f86"/>
<circle cx="972.1" cy="239.9" r="1.5" fill="#7a0f86"/>
<line x1="973.8" y1="243.1" x2="972.8" y2="250.6" stroke="#f09a28" stroke-width="1.2"/>
<line x1="959.7" y1="253.4" x2="986.9" y2="247.8" stroke="#eea238" stroke-width="1.2"/>
<circle cx="967.8" cy="251.8" r="1.5" fill="#f6cc18"/>
<circle cx="976.5" cy="250.0" r="1.5" fill="#f6cc18"/>
<circle cx="962.4" cy="255.0" r="1.05" fill="#7c8ce4"/>
<circle cx="971.0" cy="248.7" r="1.05" fill="#7c8ce4"/>
<circle cx="982.3" cy="246.7" r="1.05" fill="#7c8ce4"/>
<circle cx="985.7" cy="250.3" r="1.05" fill="#7c8ce4"/>
<circle cx="965.1" cy="250.7" r="0.9" fill="#7c7c84"/>
<circle cx="978.7" cy="247.9" r="0.9" fill="#7c7c84"/>
<circle cx="959.7" cy="253.4" r="1.6" fill="#7a0f86"/><circle cx="986.9" cy="247.8" r="1.6" fill="#7a0f86"/>
<line x1="973.3" y1="250.6" x2="968.7" y2="260.5" stroke="#f09a28" stroke-width="1.2"/>
<line x1="958.8" y1="262.8" x2="984.1" y2="258.1" stroke="#eea238" stroke-width="1.2"/>
<circle cx="966.3" cy="261.4" r="1.5" fill="#f6cc18"/>
<circle cx="974.4" cy="259.9" r="1.5" fill="#f6cc18"/>
<circle cx="962.5" cy="264.5" r="1.05" fill="#7c8ce4"/>
<circle cx="970.0" cy="258.5" r="1.05" fill="#7c8ce4"/>
<circle cx="979.1" cy="256.9" r="1.05" fill="#7c8ce4"/>
<circle cx="982.0" cy="256.2" r="1.05" fill="#7c8ce4"/>
<circle cx="963.8" cy="263.5" r="0.9" fill="#7c7c84"/>
<circle cx="976.5" cy="257.9" r="0.9" fill="#7c7c84"/>
<circle cx="958.8" cy="262.8" r="1.6" fill="#7a0f86"/><circle cx="984.1" cy="258.1" r="1.6" fill="#7a0f86"/>
<circle cx="971.6" cy="257.3" r="1.5" fill="#7a0f86"/>
<line x1="971.4" y1="260.5" x2="962.9" y2="265.4" stroke="#f09a28" stroke-width="1.2"/>
<line x1="956.9" y1="265.3" x2="974.1" y2="265.6" stroke="#eea238" stroke-width="1.2"/>
<circle cx="962.1" cy="265.4" r="1.5" fill="#f6cc18"/>
<circle cx="967.6" cy="265.5" r="1.5" fill="#f6cc18"/>
<circle cx="958.1" cy="263.1" r="1.05" fill="#7c8ce4"/>
<circle cx="964.6" cy="267.6" r="1.05" fill="#7c8ce4"/>
<circle cx="971.2" cy="267.8" r="1.05" fill="#7c8ce4"/>
<circle cx="973.4" cy="267.8" r="1.05" fill="#7c8ce4"/>
<circle cx="960.3" cy="266.9" r="0.9" fill="#7c7c84"/>
<circle cx="969.0" cy="267.1" r="0.9" fill="#7c7c84"/>
<circle cx="956.9" cy="265.3" r="1.6" fill="#7a0f86"/><circle cx="974.1" cy="265.6" r="1.6" fill="#7a0f86"/>
<line x1="965.5" y1="265.4" x2="959.3" y2="273.7" stroke="#f09a28" stroke-width="1.2"/>
<line x1="947.5" y1="272.8" x2="974.1" y2="274.6" stroke="#eea238" stroke-width="1.2"/>
<circle cx="955.5" cy="273.3" r="1.5" fill="#f6cc18"/>
<circle cx="964.0" cy="273.9" r="1.5" fill="#f6cc18"/>
<circle cx="950.1" cy="270.8" r="1.05" fill="#7c8ce4"/>
<circle cx="958.6" cy="275.8" r="1.05" fill="#7c8ce4"/>
<circle cx="968.9" cy="276.5" r="1.05" fill="#7c8ce4"/>
<circle cx="973.3" cy="276.7" r="1.05" fill="#7c8ce4"/>
<circle cx="952.8" cy="271.5" r="0.9" fill="#7c7c84"/>
<circle cx="966.1" cy="272.5" r="0.9" fill="#7c7c84"/>
<circle cx="947.5" cy="272.8" r="1.6" fill="#7a0f86"/><circle cx="974.1" cy="274.6" r="1.6" fill="#7a0f86"/>
<circle cx="960.9" cy="270.5" r="1.5" fill="#7a0f86"/>
<line x1="960.8" y1="273.7" x2="951.4" y2="285.1" stroke="#f09a28" stroke-width="1.2"/>
<line x1="939.1" y1="284.0" x2="967.8" y2="286.3" stroke="#eea238" stroke-width="1.2"/>
<circle cx="947.7" cy="284.7" r="1.5" fill="#f6cc18"/>
<circle cx="956.9" cy="285.4" r="1.5" fill="#f6cc18"/>
<circle cx="942.2" cy="286.5" r="1.05" fill="#7c8ce4"/>
<circle cx="951.8" cy="282.8" r="1.05" fill="#7c8ce4"/>
<circle cx="962.5" cy="288.0" r="1.05" fill="#7c8ce4"/>
<circle cx="966.0" cy="288.3" r="1.05" fill="#7c8ce4"/>
<circle cx="944.8" cy="286.1" r="0.9" fill="#7c7c84"/>
<circle cx="959.1" cy="287.2" r="0.9" fill="#7c7c84"/>
<circle cx="939.1" cy="284.0" r="1.6" fill="#7a0f86"/><circle cx="967.8" cy="286.3" r="1.6" fill="#7a0f86"/>
<line x1="953.4" y1="285.1" x2="952.6" y2="290.0" stroke="#f09a28" stroke-width="1.2"/>
<line x1="941.9" y1="290.4" x2="968.5" y2="289.6" stroke="#eea238" stroke-width="1.2"/>
<circle cx="949.9" cy="290.2" r="1.5" fill="#f6cc18"/>
<circle cx="958.4" cy="289.9" r="1.5" fill="#f6cc18"/>
<circle cx="944.3" cy="292.5" r="1.05" fill="#7c8ce4"/>
<circle cx="953.8" cy="287.8" r="1.05" fill="#7c8ce4"/>
<circle cx="962.3" cy="292.0" r="1.05" fill="#7c8ce4"/>
<circle cx="967.5" cy="291.9" r="1.05" fill="#7c8ce4"/>
<circle cx="947.2" cy="291.8" r="0.9" fill="#7c7c84"/>
<circle cx="960.5" cy="291.5" r="0.9" fill="#7c7c84"/>
<circle cx="941.9" cy="290.4" r="1.6" fill="#7a0f86"/><circle cx="968.5" cy="289.6" r="1.6" fill="#7a0f86"/>
<circle cx="956.7" cy="286.8" r="1.5" fill="#7a0f86"/>
<line x1="955.2" y1="290.0" x2="968.1" y2="298.4" stroke="#f09a28" stroke-width="1.2"/>
<line x1="956.9" y1="297.1" x2="981.3" y2="299.8" stroke="#eea238" stroke-width="1.2"/>
<circle cx="964.2" cy="297.9" r="1.5" fill="#f6cc18"/>
<circle cx="972.0" cy="298.8" r="1.5" fill="#f6cc18"/>
<circle cx="960.7" cy="299.6" r="1.05" fill="#7c8ce4"/>
<circle cx="967.2" cy="296.1" r="1.05" fill="#7c8ce4"/>
<circle cx="976.4" cy="297.0" r="1.05" fill="#7c8ce4"/>
<circle cx="980.6" cy="297.4" r="1.05" fill="#7c8ce4"/>
<circle cx="961.8" cy="296.1" r="0.9" fill="#7c7c84"/>
<circle cx="973.9" cy="300.6" r="0.9" fill="#7c7c84"/>
<circle cx="956.9" cy="297.1" r="1.6" fill="#7a0f86"/><circle cx="981.3" cy="299.8" r="1.6" fill="#7a0f86"/>
<line x1="969.1" y1="298.4" x2="972.8" y2="306.9" stroke="#f09a28" stroke-width="1.2"/>
<line x1="955.9" y1="306.9" x2="991.0" y2="306.9" stroke="#eea238" stroke-width="1.2"/>
<circle cx="966.5" cy="306.9" r="1.5" fill="#f6cc18"/>
<circle cx="977.7" cy="306.9" r="1.5" fill="#f6cc18"/>
<circle cx="960.9" cy="304.7" r="1.05" fill="#7c8ce4"/>
<circle cx="971.1" cy="309.1" r="1.05" fill="#7c8ce4"/>
<circle cx="984.1" cy="304.7" r="1.05" fill="#7c8ce4"/>
<circle cx="989.9" cy="309.1" r="1.05" fill="#7c8ce4"/>
<circle cx="963.0" cy="308.5" r="0.9" fill="#7c7c84"/>
<circle cx="980.5" cy="308.5" r="0.9" fill="#7c7c84"/>
<circle cx="955.9" cy="306.9" r="1.6" fill="#7a0f86"/><circle cx="991.0" cy="306.9" r="1.6" fill="#7a0f86"/>
<circle cx="974.2" cy="303.7" r="1.5" fill="#7a0f86"/>
<line x1="973.5" y1="306.9" x2="977.7" y2="313.4" stroke="#f09a28" stroke-width="1.2"/>
<line x1="965.3" y1="315.3" x2="991.6" y2="311.6" stroke="#eea238" stroke-width="1.2"/>
<circle cx="973.2" cy="314.2" r="1.5" fill="#f6cc18"/>
<circle cx="981.6" cy="313.0" r="1.5" fill="#f6cc18"/>
<circle cx="967.9" cy="312.7" r="1.05" fill="#7c8ce4"/>
<circle cx="976.5" cy="311.4" r="1.05" fill="#7c8ce4"/>
<circle cx="986.6" cy="310.1" r="1.05" fill="#7c8ce4"/>
<circle cx="990.2" cy="309.6" r="1.05" fill="#7c8ce4"/>
<circle cx="970.6" cy="316.2" r="0.9" fill="#7c7c84"/>
<circle cx="983.7" cy="314.3" r="0.9" fill="#7c7c84"/>
<circle cx="965.3" cy="315.3" r="1.6" fill="#7a0f86"/><circle cx="991.6" cy="311.6" r="1.6" fill="#7a0f86"/>
<line x1="978.4" y1="313.4" x2="975.0" y2="323.5" stroke="#f09a28" stroke-width="1.2"/>
<line x1="965.3" y1="325.6" x2="990.6" y2="321.3" stroke="#eea238" stroke-width="1.2"/>
<circle cx="972.9" cy="324.3" r="1.5" fill="#f6cc18"/>
<circle cx="981.0" cy="323.0" r="1.5" fill="#f6cc18"/>
<circle cx="968.2" cy="327.3" r="1.05" fill="#7c8ce4"/>
<circle cx="976.9" cy="325.9" r="1.05" fill="#7c8ce4"/>
<circle cx="986.5" cy="320.0" r="1.05" fill="#7c8ce4"/>
<circle cx="989.3" cy="323.7" r="1.05" fill="#7c8ce4"/>
<circle cx="970.4" cy="326.4" r="0.9" fill="#7c7c84"/>
<circle cx="983.0" cy="324.2" r="0.9" fill="#7c7c84"/>
<circle cx="965.3" cy="325.6" r="1.6" fill="#7a0f86"/><circle cx="990.6" cy="321.3" r="1.6" fill="#7a0f86"/>
<circle cx="977.5" cy="320.3" r="1.5" fill="#7a0f86"/>
<line x1="978.0" y1="323.5" x2="972.2" y2="328.4" stroke="#f09a28" stroke-width="1.2"/>
<line x1="963.4" y1="329.4" x2="981.3" y2="327.5" stroke="#eea238" stroke-width="1.2"/>
<circle cx="968.8" cy="328.8" r="1.5" fill="#f6cc18"/>
<circle cx="974.5" cy="328.2" r="1.5" fill="#f6cc18"/>
<circle cx="965.4" cy="327.0" r="1.05" fill="#7c8ce4"/>
<circle cx="970.6" cy="326.3" r="1.05" fill="#7c8ce4"/>
<circle cx="977.6" cy="325.7" r="1.05" fill="#7c8ce4"/>
<circle cx="980.0" cy="325.4" r="1.05" fill="#7c8ce4"/>
<circle cx="967.0" cy="327.4" r="0.9" fill="#7c7c84"/>
<circle cx="975.9" cy="326.5" r="0.9" fill="#7c7c84"/>
<circle cx="963.4" cy="329.4" r="1.6" fill="#7a0f86"/><circle cx="981.3" cy="327.5" r="1.6" fill="#7a0f86"/>
<line x1="972.3" y1="328.4" x2="967.3" y2="336.3" stroke="#f09a28" stroke-width="1.2"/>
<line x1="954.1" y1="335.4" x2="979.8" y2="337.3" stroke="#eea238" stroke-width="1.2"/>
<circle cx="961.8" cy="335.9" r="1.5" fill="#f6cc18"/>
<circle cx="970.0" cy="336.5" r="1.5" fill="#f6cc18"/>
<circle cx="957.2" cy="337.8" r="1.05" fill="#7c8ce4"/>
<circle cx="965.9" cy="334.0" r="1.05" fill="#7c8ce4"/>
<circle cx="975.4" cy="339.1" r="1.05" fill="#7c8ce4"/>
<circle cx="977.8" cy="339.4" r="1.05" fill="#7c8ce4"/>
<circle cx="959.2" cy="337.4" r="0.9" fill="#7c7c84"/>
<circle cx="972.0" cy="338.3" r="0.9" fill="#7c7c84"/>
<circle cx="954.1" cy="335.4" r="1.6" fill="#7a0f86"/><circle cx="979.8" cy="337.3" r="1.6" fill="#7a0f86"/>
<circle cx="966.8" cy="333.1" r="1.5" fill="#7a0f86"/>
<line x1="966.9" y1="336.3" x2="957.9" y2="348.1" stroke="#f09a28" stroke-width="1.2"/>
<line x1="947.5" y1="347.2" x2="973.0" y2="349.1" stroke="#eea238" stroke-width="1.2"/>
<circle cx="955.2" cy="347.8" r="1.5" fill="#f6cc18"/>
<circle cx="963.3" cy="348.4" r="1.5" fill="#f6cc18"/>
<circle cx="950.5" cy="349.6" r="1.05" fill="#7c8ce4"/>
<circle cx="958.9" cy="350.2" r="1.05" fill="#7c8ce4"/>
<circle cx="967.1" cy="346.5" r="1.05" fill="#7c8ce4"/>
<circle cx="972.2" cy="351.2" r="1.05" fill="#7c8ce4"/>
<circle cx="952.6" cy="349.2" r="0.9" fill="#7c7c84"/>
<circle cx="965.4" cy="346.9" r="0.9" fill="#7c7c84"/>
<circle cx="947.5" cy="347.2" r="1.6" fill="#7a0f86"/><circle cx="973.0" cy="349.1" r="1.6" fill="#7a0f86"/>
<line x1="960.3" y1="348.1" x2="959.3" y2="353.0" stroke="#f09a28" stroke-width="1.2"/>
<line x1="948.4" y1="353.2" x2="970.0" y2="352.8" stroke="#eea238" stroke-width="1.2"/>
<circle cx="954.9" cy="353.1" r="1.5" fill="#f6cc18"/>
<circle cx="961.8" cy="353.0" r="1.5" fill="#f6cc18"/>
<circle cx="950.4" cy="355.4" r="1.05" fill="#7c8ce4"/>
<circle cx="957.4" cy="350.8" r="1.05" fill="#7c8ce4"/>
<circle cx="966.2" cy="355.1" r="1.05" fill="#7c8ce4"/>
<circle cx="969.9" cy="350.6" r="1.05" fill="#7c8ce4"/>
<circle cx="952.8" cy="354.7" r="0.9" fill="#7c7c84"/>
<circle cx="963.5" cy="354.5" r="0.9" fill="#7c7c84"/>
<circle cx="948.4" cy="353.2" r="1.6" fill="#7a0f86"/><circle cx="970.0" cy="352.8" r="1.6" fill="#7a0f86"/>
<circle cx="960.9" cy="349.8" r="1.5" fill="#7a0f86"/>
<rect x="951.6" y="350.6" width="34.3" height="13.2" fill="url(#trap)"/>
<use href="#halo" x="934.4" y="317.2"/>
<use href="#halo" x="932.5" y="343.1"/>
<use href="#halo" x="1005.3" y="319.1"/>
<use href="#halo" x="1006.0" y="345.9"/>
<use href="#rsq" x="939.1" y="328.1"/>
<use href="#rsq" x="936.0" y="362.5"/>
<use href="#rsq" x="1003.5" y="328.0"/>
<use href="#rsq" x="1000.5" y="362.2"/>
<line x1="935.4" y1="315.0" x2="950.3" y2="292.8" stroke="#f01878" stroke-width="1.1" stroke-dasharray="1.3 1.1"/>
<line x1="934.8" y1="343.2" x2="947.5" y2="344.4" stroke="#f01878" stroke-width="1.1" stroke-dasharray="1.3 1.1"/>
<line x1="1003.4" y1="318.0" x2="990.6" y2="311.6" stroke="#f01878" stroke-width="1.1" stroke-dasharray="1.3 1.1"/>
<line x1="1004.6" y1="344.0" x2="985.0" y2="324.7" stroke="#f01878" stroke-width="1.1" stroke-dasharray="1.3 1.1"/>
<line x1="952.8" y1="334.4" x2="946.3" y2="331.1" stroke="#f0187c" stroke-width="2.2"/><polygon points="941.6,328.8 947.6,328.4 944.9,333.9" fill="#f0187c"/>
<line x1="948.4" y1="354.7" x2="942.8" y2="358.2" stroke="#f0187c" stroke-width="2.2"/><polygon points="938.4,361.0 941.1,355.6 944.5,360.9" fill="#f0187c"/>
<line x1="991.4" y1="321.6" x2="997.0" y2="324.6" stroke="#f0187c" stroke-width="2.2"/><polygon points="1001.6,327.0 995.6,327.3 998.5,321.8" fill="#f0187c"/>
<line x1="989.6" y1="362.2" x2="993.2" y2="362.2" stroke="#f0187c" stroke-width="2.2"/><polygon points="998.4,362.2 993.2,365.3 993.2,359.1" fill="#f0187c"/>
<circle cx="986.9" cy="362.2" r="1.4" fill="#7a0f86"/><circle cx="947.6" cy="352.8" r="1.4" fill="#7a0f86"/><circle cx="953.6" cy="335" r="1.4" fill="#7a0f86"/>
<g><g filter="url(#glow)"><path d="M933.5,389.3 L1001,389.3" fill="none" stroke="#e0604c" stroke-width="4.8" stroke-linecap="round"/><polygon points="1001,386.6 1008,389.3 1001,392" fill="#e0604c" stroke="#e0604c" stroke-width="2.2" stroke-linejoin="round"/></g>
<path d="M933.5,389.3 L1001,389.3" fill="none" stroke="#c8503c" stroke-width="3.2" stroke-linecap="round"/><polygon points="1001,386.6 1008,389.3 1001,392" fill="#fff" stroke="#c8503c" stroke-width="1.2" stroke-linejoin="round"/>
<path d="M933.5,389.3 L1001,389.3" fill="none" stroke="#fff" stroke-width="2.2" stroke-linecap="round"/><polygon points="1001,386.6 1008,389.3 1001,392" fill="#fff"/></g>
<g><g filter="url(#glow)"><path d="M933.5,383.6 L949,381.6 C958,380 961.6,375 962.4,368 L963.4,362" fill="none" stroke="#e0604c" stroke-width="5.5" stroke-linecap="round"/><polygon points="960.4,362.6 964.2,356.2 967.4,363" fill="#e0604c" stroke="#e0604c" stroke-width="2.2" stroke-linejoin="round"/></g>
<path d="M933.5,383.6 L949,381.6 C958,380 961.6,375 962.4,368 L963.4,362" fill="none" stroke="#c8503c" stroke-width="3.9" stroke-linecap="round"/><polygon points="960.4,362.6 964.2,356.2 967.4,363" fill="#fff" stroke="#c8503c" stroke-width="1.2" stroke-linejoin="round"/>
<path d="M933.5,383.6 L949,381.6 C958,380 961.6,375 962.4,368 L963.4,362" fill="none" stroke="#fff" stroke-width="2.9" stroke-linecap="round"/><polygon points="960.4,362.6 964.2,356.2 967.4,363" fill="#fff"/></g>
<g><g filter="url(#glow)"><path d="M978.3,362.4 L979.6,371 C981.6,379 987,381.8 999,382.4" fill="none" stroke="#e0604c" stroke-width="5.5" stroke-linecap="round"/><polygon points="999.4,379.4 1006.2,383 999.4,386.2" fill="#e0604c" stroke="#e0604c" stroke-width="2.2" stroke-linejoin="round"/></g>
<path d="M978.3,362.4 L979.6,371 C981.6,379 987,381.8 999,382.4" fill="none" stroke="#c8503c" stroke-width="3.9" stroke-linecap="round"/><polygon points="999.4,379.4 1006.2,383 999.4,386.2" fill="#fff" stroke="#c8503c" stroke-width="1.2" stroke-linejoin="round"/>
<path d="M978.3,362.4 L979.6,371 C981.6,379 987,381.8 999,382.4" fill="none" stroke="#fff" stroke-width="2.9" stroke-linecap="round"/><polygon points="999.4,379.4 1006.2,383 999.4,386.2" fill="#fff"/></g>
<use href="#hole" x="927.7" y="387.1"/>
<text x="969.8" y="391.2" font-size="9.6" font-weight="bold" text-anchor="middle" fill="#6a1a4c"><tspan font-weight="normal" fill="#a87a98">–</tspan>5.45</text>
</g></svg>
<svg id="fig4" width="1133" height="747" viewBox="0 0 1133 747">
<g filter="url(#blur4)">
<rect x="566.4" y="433.2" width="224.9" height="168.6" fill="#fff" stroke="#4a4a4a" stroke-width="1.5"/>
<line x1="563" y1="601.8" x2="566.4" y2="601.8" stroke="#444" stroke-width="1.1"/>
<text x="561.4" y="605.5" font-size="10.9" text-anchor="end" fill="#3a3a3a">0</text>
<line x1="563" y1="568.1" x2="566.4" y2="568.1" stroke="#444" stroke-width="1.1"/>
<text x="561.4" y="571.8" font-size="10.9" text-anchor="end" fill="#3a3a3a">5</text>
<line x1="563" y1="534.4" x2="566.4" y2="534.4" stroke="#444" stroke-width="1.1"/>
<text x="561.4" y="538.1" font-size="10.9" text-anchor="end" fill="#3a3a3a">10</text>
<line x1="563" y1="500.7" x2="566.4" y2="500.7" stroke="#444" stroke-width="1.1"/>
<text x="561.4" y="504.4" font-size="10.9" text-anchor="end" fill="#3a3a3a">15</text>
<line x1="563" y1="467.0" x2="566.4" y2="467.0" stroke="#444" stroke-width="1.1"/>
<text x="561.4" y="470.7" font-size="10.9" text-anchor="end" fill="#3a3a3a">20</text>
<line x1="563" y1="433.3" x2="566.4" y2="433.3" stroke="#444" stroke-width="1.1"/>
<text x="561.4" y="437.0" font-size="10.9" text-anchor="end" fill="#3a3a3a">25</text>
<line x1="564.6" y1="584.9" x2="566.4" y2="584.9" stroke="#555" stroke-width="0.9"/>
<line x1="564.6" y1="551.2" x2="566.4" y2="551.2" stroke="#555" stroke-width="0.9"/>
<line x1="564.6" y1="517.5" x2="566.4" y2="517.5" stroke="#555" stroke-width="0.9"/>
<line x1="564.6" y1="483.8" x2="566.4" y2="483.8" stroke="#555" stroke-width="0.9"/>
<line x1="564.6" y1="450.1" x2="566.4" y2="450.1" stroke="#555" stroke-width="0.9"/>
<line x1="566.4" y1="601.8" x2="566.4" y2="605.2" stroke="#444" stroke-width="1.1"/>
<text x="566.4" y="616.3" font-size="10.9" text-anchor="middle" fill="#3a3a3a">0.0</text>
<line x1="603.9" y1="601.8" x2="603.9" y2="605.2" stroke="#444" stroke-width="1.1"/>
<text x="603.9" y="616.3" font-size="10.9" text-anchor="middle" fill="#3a3a3a">0.2</text>
<line x1="641.4" y1="601.8" x2="641.4" y2="605.2" stroke="#444" stroke-width="1.1"/>
<text x="641.4" y="616.3" font-size="10.9" text-anchor="middle" fill="#3a3a3a">0.4</text>
<line x1="678.9" y1="601.8" x2="678.9" y2="605.2" stroke="#444" stroke-width="1.1"/>
<text x="678.9" y="616.3" font-size="10.9" text-anchor="middle" fill="#3a3a3a">0.6</text>
<line x1="716.4" y1="601.8" x2="716.4" y2="605.2" stroke="#444" stroke-width="1.1"/>
<text x="716.4" y="616.3" font-size="10.9" text-anchor="middle" fill="#3a3a3a">0.8</text>
<line x1="753.9" y1="601.8" x2="753.9" y2="605.2" stroke="#444" stroke-width="1.1"/>
<text x="753.9" y="616.3" font-size="10.9" text-anchor="middle" fill="#3a3a3a">1.0</text>
<line x1="791.4" y1="601.8" x2="791.4" y2="605.2" stroke="#444" stroke-width="1.1"/>
<text x="791.4" y="616.3" font-size="10.9" text-anchor="middle" fill="#3a3a3a">1.2</text>
<line x1="585.1" y1="601.8" x2="585.1" y2="603.6" stroke="#555" stroke-width="0.9"/>
<line x1="622.6" y1="601.8" x2="622.6" y2="603.6" stroke="#555" stroke-width="0.9"/>
<line x1="660.1" y1="601.8" x2="660.1" y2="603.6" stroke="#555" stroke-width="0.9"/>
<line x1="697.6" y1="601.8" x2="697.6" y2="603.6" stroke="#555" stroke-width="0.9"/>
<line x1="735.1" y1="601.8" x2="735.1" y2="603.6" stroke="#555" stroke-width="0.9"/>
<line x1="772.6" y1="601.8" x2="772.6" y2="603.6" stroke="#555" stroke-width="0.9"/>
<text x="681.6" y="628.8" font-size="10.8" text-anchor="middle" fill="#3a3a3a">Voltage (V)</text>
<text transform="translate(542,519.5) rotate(-90)" font-size="11.3" text-anchor="middle" fill="#3a3a3a">Current Density (mA cm<tspan font-size="6.5" dy="-4">-2</tspan><tspan dy="4">)</tspan></text>
<line x1="583.9" y1="474.8" x2="734.6" y2="474.8" stroke="#555" stroke-width="0.9"/>
<line x1="583.9" y1="496.5" x2="734.6" y2="496.5" stroke="#555" stroke-width="0.9"/>
<line x1="583.9" y1="584.0" x2="734.6" y2="584.0" stroke="#555" stroke-width="0.9"/>
<text x="644" y="489.2" font-size="12.4" text-anchor="middle" fill="#3a3a3a">Forward</text>
<text x="705.2" y="489.2" font-size="12.4" text-anchor="middle" fill="#3a3a3a">Reverse</text>
<text x="602" y="514.6" font-size="12.4" text-anchor="middle" fill="#3a3a3a"><tspan font-style="italic">V</tspan><tspan font-size="8" dy="2">OC</tspan></text>
<text x="648.5" y="514.6" font-size="12.4" text-anchor="middle" fill="#3a3a3a">1.13</text>
<text x="701.5" y="514.6" font-size="12.4" text-anchor="middle" fill="#3a3a3a">1.12</text>
<text x="602" y="534.9" font-size="12.4" text-anchor="middle" fill="#3a3a3a"><tspan font-style="italic">J</tspan><tspan font-size="8" dy="2" font-style="italic">SC</tspan></text>
<text x="648.5" y="534.9" font-size="12.4" text-anchor="middle" fill="#3a3a3a">22.3</text>
<text x="701.5" y="534.9" font-size="12.4" text-anchor="middle" fill="#3a3a3a">22.3</text>
<text x="602" y="555.6" font-size="12.4" text-anchor="middle" fill="#3a3a3a">FF</text>
<text x="648.5" y="555.6" font-size="12.4" text-anchor="middle" fill="#3a3a3a">0.789</text>
<text x="701.5" y="555.6" font-size="12.4" text-anchor="middle" fill="#3a3a3a">0.798</text>
<text x="602" y="575.6" font-size="12.4" text-anchor="middle" fill="#3a3a3a">PCE</text>
<text x="648.5" y="575.6" font-size="12.4" text-anchor="middle" fill="#3a3a3a">19.9%</text>
<text x="701.5" y="575.6" font-size="12.4" text-anchor="middle" fill="#3a3a3a">20.0%</text>
<text x="773" y="452.4" font-size="21" font-weight="bold" fill="#111">a</text>
<path d="M566.4,451.1 C572.0,451.2 587.7,451.3 600.0,451.4 C612.3,451.5 626.7,451.6 640.0,451.7 C653.3,451.8 669.2,451.8 680.0,451.8 C690.8,451.9 698.3,451.8 705.0,452.0 C711.7,452.2 716.0,452.5 720.0,452.8 C724.0,453.1 726.0,453.1 729.1,453.9 C732.2,454.7 736.1,456.0 738.8,457.7 C741.6,459.4 743.3,461.2 745.6,463.9 C747.9,466.6 750.1,469.6 752.4,474.1 C754.7,478.6 757.1,484.7 759.2,491.1 C761.3,497.5 763.2,505.3 764.9,512.7 C766.6,520.1 768.1,527.2 769.5,535.5 C770.9,543.8 772.2,554.4 773.3,562.7 C774.4,571.0 775.4,579.0 776.3,585.5 C777.2,592.0 778.2,599.1 778.6,601.8" fill="none" stroke="#2a2ad0" stroke-width="2.2"/>
<path d="M566.4,450.8 C572.0,450.9 587.7,451.0 600.0,451.1 C612.3,451.2 626.7,451.3 640.0,451.4 C653.3,451.5 669.2,451.4 680.0,451.5 C690.8,451.6 698.3,451.5 705.0,451.7 C711.7,451.9 716.0,452.2 720.0,452.5 C724.0,452.8 726.1,452.7 729.1,453.6 C732.1,454.5 735.6,456.0 738.2,457.7 C740.9,459.4 742.7,461.2 745.0,463.9 C747.3,466.6 749.5,469.6 751.8,474.1 C754.1,478.6 756.5,484.7 758.6,491.1 C760.7,497.5 762.6,505.3 764.3,512.7 C766.0,520.1 767.5,527.2 768.9,535.5 C770.3,543.8 771.6,554.4 772.7,562.7 C773.8,571.0 774.8,579.0 775.7,585.5 C776.6,592.0 777.6,599.1 778.0,601.8" fill="none" stroke="#dc1848" stroke-width="1.8"/>
<line x1="768.6" y1="575.6" x2="766.6" y2="559" stroke="#e82a2a" stroke-width="1.1"/><polygon points="764.1,560.3 768.7,559.7 765.9,553.4" fill="#e82a2a"/>
<line x1="777.3" y1="559" x2="779.5" y2="575" stroke="#2a3ad8" stroke-width="1.1"/><polygon points="777.2,573.9 781.8,573.3 780.2,580.8" fill="#2a3ad8"/>
</g></svg>
<svg id="fig5" width="1133" height="747" viewBox="0 0 1133 747">
<defs>
<linearGradient id="f5ag" x1="0" y1="0" x2="0" y2="1"><stop offset="0" stop-color="#bdbdbd"/><stop offset="0.6" stop-color="#dcdcdc"/><stop offset="1" stop-color="#e9e9e9"/></linearGradient>
<linearGradient id="f5bcp" x1="0" y1="0" x2="0" y2="1"><stop offset="0" stop-color="#a39484"/><stop offset="0.45" stop-color="#dcc6b4"/><stop offset="1" stop-color="#f4e0d2"/></linearGradient>
<linearGradient id="f5c60" x1="0" y1="0" x2="0" y2="1"><stop offset="0" stop-color="#be8cf8"/><stop offset="0.5" stop-color="#d8b2fb"/><stop offset="1" stop-color="#f1dcfd"/></linearGradient>
<linearGradient id="f5ito" x1="0" y1="0" x2="0" y2="1"><stop offset="0" stop-color="#e2f0dc"/><stop offset="0.4" stop-color="#ecf5e8"/><stop offset="1" stop-color="#d3e9cd"/></linearGradient>
<clipPath id="f5pclip"><path d="M815,494 H991 V596.7 H815 Z"/></clipPath>
<clipPath id="f5clip"><rect x="815" y="435" width="176" height="190.6"/></clipPath>
<filter id="blur8" x="-10%" y="-10%" width="120%" height="120%"><feGaussianBlur stdDeviation="0.7"/></filter>
</defs>
<g clip-path="url(#f5clip)">
<rect x="815" y="435" width="176" height="28" fill="url(#f5ag)"/>
<rect x="815" y="462.9" width="176" height="12.4" fill="url(#f5bcp)"/>
<rect x="815" y="475.2" width="176" height="19" fill="url(#f5c60)"/>
<rect x="815" y="596" width="176" height="29.6" fill="url(#f5ito)"/>
<g clip-path="url(#f5pclip)"><g filter="url(#blur8)">
<rect x="795" y="484" width="216" height="122.7" fill="#8a3e0b"/>
<path d="M833.0,492 C837.8,496.0 839.0,499.0 839.0,506.0 L839.0,534.2 C839.0,539.7 837.8,543.4 832.5,544.2 C837.8,545 839.0,548.7 839.0,554.2 L839.0,585.0 C839.0,592.0 837.8,595.0 833.0,599 L849.0,599 C844.2,595.0 843.0,592.0 843.0,585.0 L843.0,554.2 C843.0,548.7 844.2,545 849.5,544.2 C844.2,543.4 843.0,539.7 843.0,534.2 L843.0,506.0 C843.0,499.0 844.2,496.0 849.0,492 Z" fill="#c47408"/>
<path d="M835.2,492 C838.9,496.0 840.1,499.0 840.1,506.0 L840.1,536.2 C840.1,540.6 838.9,543.4 834.5,544.2 C838.9,545 840.1,547.8 840.1,552.2 L840.1,585.0 C840.1,592.0 838.9,595.0 835.2,599 L846.8,599 C843.1,595.0 841.9,592.0 841.9,585.0 L841.9,552.2 C841.9,547.8 843.1,545 847.5,544.2 C843.1,543.4 841.9,540.6 841.9,536.2 L841.9,506.0 C841.9,499.0 843.1,496.0 846.8,492 Z" fill="#ffe80c"/>
<path d="M864.5,492 C869.3,496.0 870.5,499.0 870.5,506.0 L870.5,534.2 C870.5,539.7 869.3,543.4 864.0,544.2 C869.3,545 870.5,548.7 870.5,554.2 L870.5,585.0 C870.5,592.0 869.3,595.0 864.5,599 L880.5,599 C875.7,595.0 874.5,592.0 874.5,585.0 L874.5,554.2 C874.5,548.7 875.7,545 881.0,544.2 C875.7,543.4 874.5,539.7 874.5,534.2 L874.5,506.0 C874.5,499.0 875.7,496.0 880.5,492 Z" fill="#c47408"/>
<path d="M866.7,492 C870.4,496.0 871.6,499.0 871.6,506.0 L871.6,536.2 C871.6,540.6 870.4,543.4 866.0,544.2 C870.4,545 871.6,547.8 871.6,552.2 L871.6,585.0 C871.6,592.0 870.4,595.0 866.7,599 L878.3,599 C874.6,595.0 873.4,592.0 873.4,585.0 L873.4,552.2 C873.4,547.8 874.6,545 879.0,544.2 C874.6,543.4 873.4,540.6 873.4,536.2 L873.4,506.0 C873.4,499.0 874.6,496.0 878.3,492 Z" fill="#ffe80c"/>
<path d="M894.9,492 C899.7,496.0 900.9,499.0 900.9,506.0 L900.9,534.2 C900.9,539.7 899.7,543.4 894.4,544.2 C899.7,545 900.9,548.7 900.9,554.2 L900.9,585.0 C900.9,592.0 899.7,595.0 894.9,599 L910.9,599 C906.1,595.0 904.9,592.0 904.9,585.0 L904.9,554.2 C904.9,548.7 906.1,545 911.4,544.2 C906.1,543.4 904.9,539.7 904.9,534.2 L904.9,506.0 C904.9,499.0 906.1,496.0 910.9,492 Z" fill="#c47408"/>
<path d="M897.1,492 C900.8,496.0 902.0,499.0 902.0,506.0 L902.0,536.2 C902.0,540.6 900.8,543.4 896.4,544.2 C900.8,545 902.0,547.8 902.0,552.2 L902.0,585.0 C902.0,592.0 900.8,595.0 897.1,599 L908.7,599 C905.0,595.0 903.8,592.0 903.8,585.0 L903.8,552.2 C903.8,547.8 905.0,545 909.4,544.2 C905.0,543.4 903.8,540.6 903.8,536.2 L903.8,506.0 C903.8,499.0 905.0,496.0 908.7,492 Z" fill="#ffe80c"/>
<path d="M925.5,492 C930.3,496.0 931.5,499.0 931.5,506.0 L931.5,534.2 C931.5,539.7 930.3,543.4 925.0,544.2 C930.3,545 931.5,548.7 931.5,554.2 L931.5,585.0 C931.5,592.0 930.3,595.0 925.5,599 L941.5,599 C936.7,595.0 935.5,592.0 935.5,585.0 L935.5,554.2 C935.5,548.7 936.7,545 942.0,544.2 C936.7,543.4 935.5,539.7 935.5,534.2 L935.5,506.0 C935.5,499.0 936.7,496.0 941.5,492 Z" fill="#c47408"/>
<path d="M927.7,492 C931.4,496.0 932.6,499.0 932.6,506.0 L932.6,536.2 C932.6,540.6 931.4,543.4 927.0,544.2 C931.4,545 932.6,547.8 932.6,552.2 L932.6,585.0 C932.6,592.0 931.4,595.0 927.7,599 L939.3,599 C935.6,595.0 934.4,592.0 934.4,585.0 L934.4,552.2 C934.4,547.8 935.6,545 940.0,544.2 C935.6,543.4 934.4,540.6 934.4,536.2 L934.4,506.0 C934.4,499.0 935.6,496.0 939.3,492 Z" fill="#ffe80c"/>
<path d="M958.0,492 C962.8,496.0 964.0,499.0 964.0,506.0 L964.0,534.2 C964.0,539.7 962.8,543.4 957.5,544.2 C962.8,545 964.0,548.7 964.0,554.2 L964.0,585.0 C964.0,592.0 962.8,595.0 958.0,599 L974.0,599 C969.2,595.0 968.0,592.0 968.0,585.0 L968.0,554.2 C968.0,548.7 969.2,545 974.5,544.2 C969.2,543.4 968.0,539.7 968.0,534.2 L968.0,506.0 C968.0,499.0 969.2,496.0 974.0,492 Z" fill="#c47408"/>
<path d="M960.2,492 C963.9,496.0 965.1,499.0 965.1,506.0 L965.1,536.2 C965.1,540.6 963.9,543.4 959.5,544.2 C963.9,545 965.1,547.8 965.1,552.2 L965.1,585.0 C965.1,592.0 963.9,595.0 960.2,599 L971.8,599 C968.1,595.0 966.9,592.0 966.9,585.0 L966.9,552.2 C966.9,547.8 968.1,545 972.5,544.2 C968.1,543.4 966.9,540.6 966.9,536.2 L966.9,506.0 C966.9,499.0 968.1,496.0 971.8,492 Z" fill="#ffe80c"/>
<path d="M813,538 L817.5,542 L813,546 Z" fill="#f4e6c0"/>
</g></g>
</g>
<g filter="url(#blur4)">
<text x="822.6" y="455.2" font-size="20.5" font-weight="bold" fill="#111">b</text>
<text x="899" y="451.2" font-size="14.3" text-anchor="middle" fill="#444">Ag</text>
<text x="899" y="473.6" font-size="14.3" text-anchor="middle" fill="#4a4038">BCP</text>
<text x="899.5" y="489.2" font-size="14.3" text-anchor="middle" fill="#4e3c86">C<tspan font-size="9.2" dy="2.6">60</tspan></text>
<text x="903.5" y="524" font-size="14.5" text-anchor="middle" fill="#f1e1d3">Perovskite-Cu(Tu)I</text>
<text x="899.2" y="617.6" font-size="14.3" text-anchor="middle" fill="#444">ITO</text>
</g></svg>
<div class="abs cit" id="c3" style="left:641.8px;top:675.4px;"><i>J. Am. Chem. Soc.</i> <b>2017</b>, 139, 22, 7504</div>
</body></html>
